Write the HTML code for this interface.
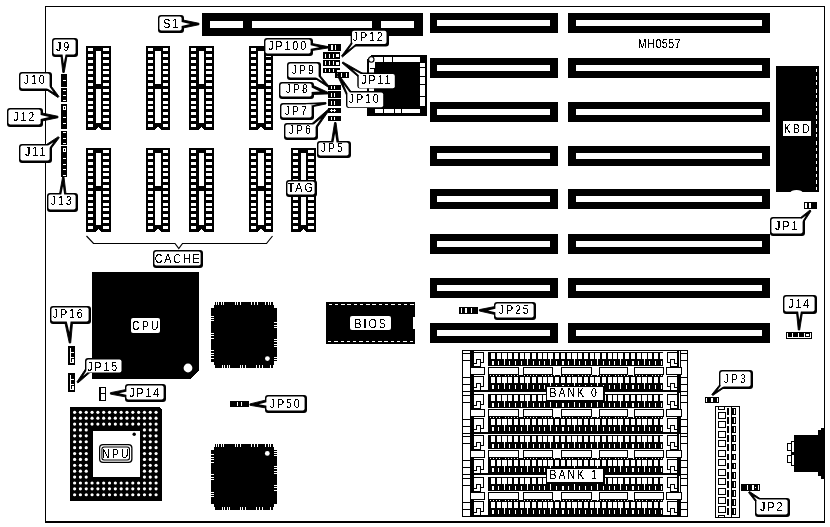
<!DOCTYPE html>
<html><head><meta charset="utf-8"><title>MH0557 motherboard</title>
<style>
html,body{margin:0;padding:0;background:#fff;}
body{width:830px;height:527px;overflow:hidden;font-family:"Liberation Sans",sans-serif;}
svg{display:block;will-change:transform;}
svg text{font-family:"Liberation Sans",sans-serif;fill:#000;}
</style></head><body>
<svg width="830" height="527" viewBox="0 0 830 527" shape-rendering="crispEdges">
<defs><filter id="crisp" x="-5%" y="-20%" width="110%" height="140%" color-interpolation-filters="sRGB"><feComponentTransfer><feFuncA type="discrete" tableValues="0 0 0 0 0 0 0 0 0 1 1 1 1 1 1 1 1 1 1 1"/></feComponentTransfer></filter></defs>
<rect x="0" y="0" width="830" height="527" fill="#fff"/>
<rect x="45" y="6" width="780" height="1" fill="#000"/>
<rect x="45" y="6" width="1" height="517" fill="#000"/>
<rect x="824" y="6" width="1" height="517" fill="#000"/>
<rect x="45" y="521" width="780" height="2" fill="#000"/>
<rect x="202" y="13" width="221" height="23" fill="#000"/>
<rect x="210" y="21" width="33" height="7" fill="#fff"/>
<rect x="252" y="21" width="120" height="7" fill="#fff"/>
<rect x="381" y="21" width="33" height="7" fill="#fff"/>
<rect x="430" y="13" width="128" height="20" fill="#000"/>
<rect x="437" y="20" width="113" height="6" fill="#fff"/>
<rect x="568" y="13" width="202" height="20" fill="#000"/>
<rect x="576" y="20" width="186" height="6" fill="#fff"/>
<rect x="430" y="58" width="128" height="20" fill="#000"/>
<rect x="437" y="65" width="113" height="6" fill="#fff"/>
<rect x="568" y="58" width="202" height="20" fill="#000"/>
<rect x="576" y="65" width="186" height="6" fill="#fff"/>
<rect x="430" y="102" width="128" height="20" fill="#000"/>
<rect x="437" y="109" width="113" height="6" fill="#fff"/>
<rect x="568" y="102" width="202" height="20" fill="#000"/>
<rect x="576" y="109" width="186" height="6" fill="#fff"/>
<rect x="430" y="146" width="128" height="20" fill="#000"/>
<rect x="437" y="153" width="113" height="6" fill="#fff"/>
<rect x="568" y="146" width="202" height="20" fill="#000"/>
<rect x="576" y="153" width="186" height="6" fill="#fff"/>
<rect x="430" y="189" width="128" height="20" fill="#000"/>
<rect x="437" y="196" width="113" height="6" fill="#fff"/>
<rect x="568" y="189" width="202" height="20" fill="#000"/>
<rect x="576" y="196" width="186" height="6" fill="#fff"/>
<rect x="430" y="234" width="128" height="20" fill="#000"/>
<rect x="437" y="241" width="113" height="6" fill="#fff"/>
<rect x="568" y="234" width="202" height="20" fill="#000"/>
<rect x="576" y="241" width="186" height="6" fill="#fff"/>
<rect x="430" y="278" width="128" height="20" fill="#000"/>
<rect x="437" y="285" width="113" height="6" fill="#fff"/>
<rect x="568" y="278" width="202" height="20" fill="#000"/>
<rect x="576" y="285" width="186" height="6" fill="#fff"/>
<rect x="430" y="323" width="128" height="20" fill="#000"/>
<rect x="437" y="330" width="113" height="6" fill="#fff"/>
<rect x="568" y="323" width="202" height="20" fill="#000"/>
<rect x="576" y="330" width="186" height="6" fill="#fff"/>
<rect x="86" y="46" width="25" height="84" fill="#000"/>
<rect x="88" y="48" width="5" height="3" fill="#fff"/>
<rect x="103" y="48" width="6" height="3" fill="#fff"/>
<rect x="88" y="54" width="5" height="3" fill="#fff"/>
<rect x="103" y="54" width="6" height="3" fill="#fff"/>
<rect x="88" y="60" width="5" height="3" fill="#fff"/>
<rect x="103" y="60" width="6" height="3" fill="#fff"/>
<rect x="88" y="66" width="5" height="3" fill="#fff"/>
<rect x="103" y="66" width="6" height="3" fill="#fff"/>
<rect x="88" y="71" width="5" height="3" fill="#fff"/>
<rect x="103" y="71" width="6" height="3" fill="#fff"/>
<rect x="88" y="77" width="5" height="3" fill="#fff"/>
<rect x="103" y="77" width="6" height="3" fill="#fff"/>
<rect x="88" y="83" width="5" height="3" fill="#fff"/>
<rect x="103" y="83" width="6" height="3" fill="#fff"/>
<rect x="88" y="89" width="5" height="3" fill="#fff"/>
<rect x="103" y="89" width="6" height="3" fill="#fff"/>
<rect x="88" y="95" width="5" height="3" fill="#fff"/>
<rect x="103" y="95" width="6" height="3" fill="#fff"/>
<rect x="88" y="101" width="5" height="3" fill="#fff"/>
<rect x="103" y="101" width="6" height="3" fill="#fff"/>
<rect x="88" y="106" width="5" height="3" fill="#fff"/>
<rect x="103" y="106" width="6" height="3" fill="#fff"/>
<rect x="88" y="112" width="5" height="3" fill="#fff"/>
<rect x="103" y="112" width="6" height="3" fill="#fff"/>
<rect x="88" y="118" width="5" height="3" fill="#fff"/>
<rect x="103" y="118" width="6" height="3" fill="#fff"/>
<rect x="88" y="124" width="5" height="3" fill="#fff"/>
<rect x="103" y="124" width="6" height="3" fill="#fff"/>
<rect x="96" y="51" width="5" height="33" fill="#fff"/>
<rect x="96" y="89" width="5" height="34" fill="#fff"/>
<polygon points="96,130 98.5,126.8 101,130" fill="#fff"/>
<rect x="86" y="148" width="25" height="84" fill="#000"/>
<rect x="88" y="150" width="5" height="3" fill="#fff"/>
<rect x="103" y="150" width="6" height="3" fill="#fff"/>
<rect x="88" y="156" width="5" height="3" fill="#fff"/>
<rect x="103" y="156" width="6" height="3" fill="#fff"/>
<rect x="88" y="162" width="5" height="3" fill="#fff"/>
<rect x="103" y="162" width="6" height="3" fill="#fff"/>
<rect x="88" y="168" width="5" height="3" fill="#fff"/>
<rect x="103" y="168" width="6" height="3" fill="#fff"/>
<rect x="88" y="173" width="5" height="3" fill="#fff"/>
<rect x="103" y="173" width="6" height="3" fill="#fff"/>
<rect x="88" y="179" width="5" height="3" fill="#fff"/>
<rect x="103" y="179" width="6" height="3" fill="#fff"/>
<rect x="88" y="185" width="5" height="3" fill="#fff"/>
<rect x="103" y="185" width="6" height="3" fill="#fff"/>
<rect x="88" y="191" width="5" height="3" fill="#fff"/>
<rect x="103" y="191" width="6" height="3" fill="#fff"/>
<rect x="88" y="197" width="5" height="3" fill="#fff"/>
<rect x="103" y="197" width="6" height="3" fill="#fff"/>
<rect x="88" y="203" width="5" height="3" fill="#fff"/>
<rect x="103" y="203" width="6" height="3" fill="#fff"/>
<rect x="88" y="208" width="5" height="3" fill="#fff"/>
<rect x="103" y="208" width="6" height="3" fill="#fff"/>
<rect x="88" y="214" width="5" height="3" fill="#fff"/>
<rect x="103" y="214" width="6" height="3" fill="#fff"/>
<rect x="88" y="220" width="5" height="3" fill="#fff"/>
<rect x="103" y="220" width="6" height="3" fill="#fff"/>
<rect x="88" y="226" width="5" height="3" fill="#fff"/>
<rect x="103" y="226" width="6" height="3" fill="#fff"/>
<rect x="96" y="153" width="5" height="33" fill="#fff"/>
<rect x="96" y="191" width="5" height="34" fill="#fff"/>
<polygon points="96,232 98.5,228.8 101,232" fill="#fff"/>
<rect x="146" y="46" width="24" height="84" fill="#000"/>
<rect x="148" y="48" width="5" height="3" fill="#fff"/>
<rect x="163" y="48" width="5" height="3" fill="#fff"/>
<rect x="148" y="54" width="5" height="3" fill="#fff"/>
<rect x="163" y="54" width="5" height="3" fill="#fff"/>
<rect x="148" y="60" width="5" height="3" fill="#fff"/>
<rect x="163" y="60" width="5" height="3" fill="#fff"/>
<rect x="148" y="66" width="5" height="3" fill="#fff"/>
<rect x="163" y="66" width="5" height="3" fill="#fff"/>
<rect x="148" y="71" width="5" height="3" fill="#fff"/>
<rect x="163" y="71" width="5" height="3" fill="#fff"/>
<rect x="148" y="77" width="5" height="3" fill="#fff"/>
<rect x="163" y="77" width="5" height="3" fill="#fff"/>
<rect x="148" y="83" width="5" height="3" fill="#fff"/>
<rect x="163" y="83" width="5" height="3" fill="#fff"/>
<rect x="148" y="89" width="5" height="3" fill="#fff"/>
<rect x="163" y="89" width="5" height="3" fill="#fff"/>
<rect x="148" y="95" width="5" height="3" fill="#fff"/>
<rect x="163" y="95" width="5" height="3" fill="#fff"/>
<rect x="148" y="101" width="5" height="3" fill="#fff"/>
<rect x="163" y="101" width="5" height="3" fill="#fff"/>
<rect x="148" y="106" width="5" height="3" fill="#fff"/>
<rect x="163" y="106" width="5" height="3" fill="#fff"/>
<rect x="148" y="112" width="5" height="3" fill="#fff"/>
<rect x="163" y="112" width="5" height="3" fill="#fff"/>
<rect x="148" y="118" width="5" height="3" fill="#fff"/>
<rect x="163" y="118" width="5" height="3" fill="#fff"/>
<rect x="148" y="124" width="5" height="3" fill="#fff"/>
<rect x="163" y="124" width="5" height="3" fill="#fff"/>
<rect x="155" y="51" width="6" height="33" fill="#fff"/>
<rect x="155" y="89" width="6" height="34" fill="#fff"/>
<polygon points="155,130 158,126.8 161,130" fill="#fff"/>
<rect x="146" y="148" width="24" height="84" fill="#000"/>
<rect x="148" y="150" width="5" height="3" fill="#fff"/>
<rect x="163" y="150" width="5" height="3" fill="#fff"/>
<rect x="148" y="156" width="5" height="3" fill="#fff"/>
<rect x="163" y="156" width="5" height="3" fill="#fff"/>
<rect x="148" y="162" width="5" height="3" fill="#fff"/>
<rect x="163" y="162" width="5" height="3" fill="#fff"/>
<rect x="148" y="168" width="5" height="3" fill="#fff"/>
<rect x="163" y="168" width="5" height="3" fill="#fff"/>
<rect x="148" y="173" width="5" height="3" fill="#fff"/>
<rect x="163" y="173" width="5" height="3" fill="#fff"/>
<rect x="148" y="179" width="5" height="3" fill="#fff"/>
<rect x="163" y="179" width="5" height="3" fill="#fff"/>
<rect x="148" y="185" width="5" height="3" fill="#fff"/>
<rect x="163" y="185" width="5" height="3" fill="#fff"/>
<rect x="148" y="191" width="5" height="3" fill="#fff"/>
<rect x="163" y="191" width="5" height="3" fill="#fff"/>
<rect x="148" y="197" width="5" height="3" fill="#fff"/>
<rect x="163" y="197" width="5" height="3" fill="#fff"/>
<rect x="148" y="203" width="5" height="3" fill="#fff"/>
<rect x="163" y="203" width="5" height="3" fill="#fff"/>
<rect x="148" y="208" width="5" height="3" fill="#fff"/>
<rect x="163" y="208" width="5" height="3" fill="#fff"/>
<rect x="148" y="214" width="5" height="3" fill="#fff"/>
<rect x="163" y="214" width="5" height="3" fill="#fff"/>
<rect x="148" y="220" width="5" height="3" fill="#fff"/>
<rect x="163" y="220" width="5" height="3" fill="#fff"/>
<rect x="148" y="226" width="5" height="3" fill="#fff"/>
<rect x="163" y="226" width="5" height="3" fill="#fff"/>
<rect x="155" y="153" width="6" height="33" fill="#fff"/>
<rect x="155" y="191" width="6" height="34" fill="#fff"/>
<polygon points="155,232 158,228.8 161,232" fill="#fff"/>
<rect x="189" y="46" width="25" height="84" fill="#000"/>
<rect x="191" y="48" width="5" height="3" fill="#fff"/>
<rect x="206" y="48" width="6" height="3" fill="#fff"/>
<rect x="191" y="54" width="5" height="3" fill="#fff"/>
<rect x="206" y="54" width="6" height="3" fill="#fff"/>
<rect x="191" y="60" width="5" height="3" fill="#fff"/>
<rect x="206" y="60" width="6" height="3" fill="#fff"/>
<rect x="191" y="66" width="5" height="3" fill="#fff"/>
<rect x="206" y="66" width="6" height="3" fill="#fff"/>
<rect x="191" y="71" width="5" height="3" fill="#fff"/>
<rect x="206" y="71" width="6" height="3" fill="#fff"/>
<rect x="191" y="77" width="5" height="3" fill="#fff"/>
<rect x="206" y="77" width="6" height="3" fill="#fff"/>
<rect x="191" y="83" width="5" height="3" fill="#fff"/>
<rect x="206" y="83" width="6" height="3" fill="#fff"/>
<rect x="191" y="89" width="5" height="3" fill="#fff"/>
<rect x="206" y="89" width="6" height="3" fill="#fff"/>
<rect x="191" y="95" width="5" height="3" fill="#fff"/>
<rect x="206" y="95" width="6" height="3" fill="#fff"/>
<rect x="191" y="101" width="5" height="3" fill="#fff"/>
<rect x="206" y="101" width="6" height="3" fill="#fff"/>
<rect x="191" y="106" width="5" height="3" fill="#fff"/>
<rect x="206" y="106" width="6" height="3" fill="#fff"/>
<rect x="191" y="112" width="5" height="3" fill="#fff"/>
<rect x="206" y="112" width="6" height="3" fill="#fff"/>
<rect x="191" y="118" width="5" height="3" fill="#fff"/>
<rect x="206" y="118" width="6" height="3" fill="#fff"/>
<rect x="191" y="124" width="5" height="3" fill="#fff"/>
<rect x="206" y="124" width="6" height="3" fill="#fff"/>
<rect x="199" y="51" width="5" height="33" fill="#fff"/>
<rect x="199" y="89" width="5" height="34" fill="#fff"/>
<polygon points="199,130 201.5,126.8 204,130" fill="#fff"/>
<rect x="189" y="148" width="25" height="84" fill="#000"/>
<rect x="191" y="150" width="5" height="3" fill="#fff"/>
<rect x="206" y="150" width="6" height="3" fill="#fff"/>
<rect x="191" y="156" width="5" height="3" fill="#fff"/>
<rect x="206" y="156" width="6" height="3" fill="#fff"/>
<rect x="191" y="162" width="5" height="3" fill="#fff"/>
<rect x="206" y="162" width="6" height="3" fill="#fff"/>
<rect x="191" y="168" width="5" height="3" fill="#fff"/>
<rect x="206" y="168" width="6" height="3" fill="#fff"/>
<rect x="191" y="173" width="5" height="3" fill="#fff"/>
<rect x="206" y="173" width="6" height="3" fill="#fff"/>
<rect x="191" y="179" width="5" height="3" fill="#fff"/>
<rect x="206" y="179" width="6" height="3" fill="#fff"/>
<rect x="191" y="185" width="5" height="3" fill="#fff"/>
<rect x="206" y="185" width="6" height="3" fill="#fff"/>
<rect x="191" y="191" width="5" height="3" fill="#fff"/>
<rect x="206" y="191" width="6" height="3" fill="#fff"/>
<rect x="191" y="197" width="5" height="3" fill="#fff"/>
<rect x="206" y="197" width="6" height="3" fill="#fff"/>
<rect x="191" y="203" width="5" height="3" fill="#fff"/>
<rect x="206" y="203" width="6" height="3" fill="#fff"/>
<rect x="191" y="208" width="5" height="3" fill="#fff"/>
<rect x="206" y="208" width="6" height="3" fill="#fff"/>
<rect x="191" y="214" width="5" height="3" fill="#fff"/>
<rect x="206" y="214" width="6" height="3" fill="#fff"/>
<rect x="191" y="220" width="5" height="3" fill="#fff"/>
<rect x="206" y="220" width="6" height="3" fill="#fff"/>
<rect x="191" y="226" width="5" height="3" fill="#fff"/>
<rect x="206" y="226" width="6" height="3" fill="#fff"/>
<rect x="199" y="153" width="5" height="33" fill="#fff"/>
<rect x="199" y="191" width="5" height="34" fill="#fff"/>
<polygon points="199,232 201.5,228.8 204,232" fill="#fff"/>
<rect x="249" y="46" width="24" height="84" fill="#000"/>
<rect x="251" y="48" width="5" height="3" fill="#fff"/>
<rect x="266" y="48" width="5" height="3" fill="#fff"/>
<rect x="251" y="54" width="5" height="3" fill="#fff"/>
<rect x="266" y="54" width="5" height="3" fill="#fff"/>
<rect x="251" y="60" width="5" height="3" fill="#fff"/>
<rect x="266" y="60" width="5" height="3" fill="#fff"/>
<rect x="251" y="66" width="5" height="3" fill="#fff"/>
<rect x="266" y="66" width="5" height="3" fill="#fff"/>
<rect x="251" y="71" width="5" height="3" fill="#fff"/>
<rect x="266" y="71" width="5" height="3" fill="#fff"/>
<rect x="251" y="77" width="5" height="3" fill="#fff"/>
<rect x="266" y="77" width="5" height="3" fill="#fff"/>
<rect x="251" y="83" width="5" height="3" fill="#fff"/>
<rect x="266" y="83" width="5" height="3" fill="#fff"/>
<rect x="251" y="89" width="5" height="3" fill="#fff"/>
<rect x="266" y="89" width="5" height="3" fill="#fff"/>
<rect x="251" y="95" width="5" height="3" fill="#fff"/>
<rect x="266" y="95" width="5" height="3" fill="#fff"/>
<rect x="251" y="101" width="5" height="3" fill="#fff"/>
<rect x="266" y="101" width="5" height="3" fill="#fff"/>
<rect x="251" y="106" width="5" height="3" fill="#fff"/>
<rect x="266" y="106" width="5" height="3" fill="#fff"/>
<rect x="251" y="112" width="5" height="3" fill="#fff"/>
<rect x="266" y="112" width="5" height="3" fill="#fff"/>
<rect x="251" y="118" width="5" height="3" fill="#fff"/>
<rect x="266" y="118" width="5" height="3" fill="#fff"/>
<rect x="251" y="124" width="5" height="3" fill="#fff"/>
<rect x="266" y="124" width="5" height="3" fill="#fff"/>
<rect x="258" y="51" width="6" height="33" fill="#fff"/>
<rect x="258" y="89" width="6" height="34" fill="#fff"/>
<polygon points="258,130 261,126.8 264,130" fill="#fff"/>
<rect x="249" y="148" width="24" height="84" fill="#000"/>
<rect x="251" y="150" width="5" height="3" fill="#fff"/>
<rect x="266" y="150" width="5" height="3" fill="#fff"/>
<rect x="251" y="156" width="5" height="3" fill="#fff"/>
<rect x="266" y="156" width="5" height="3" fill="#fff"/>
<rect x="251" y="162" width="5" height="3" fill="#fff"/>
<rect x="266" y="162" width="5" height="3" fill="#fff"/>
<rect x="251" y="168" width="5" height="3" fill="#fff"/>
<rect x="266" y="168" width="5" height="3" fill="#fff"/>
<rect x="251" y="173" width="5" height="3" fill="#fff"/>
<rect x="266" y="173" width="5" height="3" fill="#fff"/>
<rect x="251" y="179" width="5" height="3" fill="#fff"/>
<rect x="266" y="179" width="5" height="3" fill="#fff"/>
<rect x="251" y="185" width="5" height="3" fill="#fff"/>
<rect x="266" y="185" width="5" height="3" fill="#fff"/>
<rect x="251" y="191" width="5" height="3" fill="#fff"/>
<rect x="266" y="191" width="5" height="3" fill="#fff"/>
<rect x="251" y="197" width="5" height="3" fill="#fff"/>
<rect x="266" y="197" width="5" height="3" fill="#fff"/>
<rect x="251" y="203" width="5" height="3" fill="#fff"/>
<rect x="266" y="203" width="5" height="3" fill="#fff"/>
<rect x="251" y="208" width="5" height="3" fill="#fff"/>
<rect x="266" y="208" width="5" height="3" fill="#fff"/>
<rect x="251" y="214" width="5" height="3" fill="#fff"/>
<rect x="266" y="214" width="5" height="3" fill="#fff"/>
<rect x="251" y="220" width="5" height="3" fill="#fff"/>
<rect x="266" y="220" width="5" height="3" fill="#fff"/>
<rect x="251" y="226" width="5" height="3" fill="#fff"/>
<rect x="266" y="226" width="5" height="3" fill="#fff"/>
<rect x="258" y="153" width="6" height="33" fill="#fff"/>
<rect x="258" y="191" width="6" height="34" fill="#fff"/>
<polygon points="258,232 261,228.8 264,232" fill="#fff"/>
<rect x="291" y="148" width="25" height="84" fill="#000"/>
<rect x="293" y="150" width="5" height="3" fill="#fff"/>
<rect x="308" y="150" width="6" height="3" fill="#fff"/>
<rect x="293" y="156" width="5" height="3" fill="#fff"/>
<rect x="308" y="156" width="6" height="3" fill="#fff"/>
<rect x="293" y="162" width="5" height="3" fill="#fff"/>
<rect x="308" y="162" width="6" height="3" fill="#fff"/>
<rect x="293" y="168" width="5" height="3" fill="#fff"/>
<rect x="308" y="168" width="6" height="3" fill="#fff"/>
<rect x="293" y="173" width="5" height="3" fill="#fff"/>
<rect x="308" y="173" width="6" height="3" fill="#fff"/>
<rect x="293" y="179" width="5" height="3" fill="#fff"/>
<rect x="308" y="179" width="6" height="3" fill="#fff"/>
<rect x="293" y="185" width="5" height="3" fill="#fff"/>
<rect x="308" y="185" width="6" height="3" fill="#fff"/>
<rect x="293" y="191" width="5" height="3" fill="#fff"/>
<rect x="308" y="191" width="6" height="3" fill="#fff"/>
<rect x="293" y="197" width="5" height="3" fill="#fff"/>
<rect x="308" y="197" width="6" height="3" fill="#fff"/>
<rect x="293" y="203" width="5" height="3" fill="#fff"/>
<rect x="308" y="203" width="6" height="3" fill="#fff"/>
<rect x="293" y="208" width="5" height="3" fill="#fff"/>
<rect x="308" y="208" width="6" height="3" fill="#fff"/>
<rect x="293" y="214" width="5" height="3" fill="#fff"/>
<rect x="308" y="214" width="6" height="3" fill="#fff"/>
<rect x="293" y="220" width="5" height="3" fill="#fff"/>
<rect x="308" y="220" width="6" height="3" fill="#fff"/>
<rect x="293" y="226" width="5" height="3" fill="#fff"/>
<rect x="308" y="226" width="6" height="3" fill="#fff"/>
<rect x="301" y="153" width="5" height="33" fill="#fff"/>
<rect x="301" y="191" width="5" height="34" fill="#fff"/>
<polygon points="301,232 303.5,228.8 306,232" fill="#fff"/>
<rect x="61" y="73.8" width="6" height="12.9" fill="#000"/>
<rect x="61" y="88.2" width="6" height="13.8" fill="#000"/>
<rect x="61" y="103.9" width="6" height="25.2" fill="#000"/>
<rect x="61" y="131" width="6" height="13.5" fill="#000"/>
<rect x="61" y="146.3" width="6" height="30.7" fill="#000"/>
<rect x="62.5" y="79.5" width="3.5" height="1.1" fill="#fff"/>
<rect x="62.5" y="89.5" width="3.5" height="1.1" fill="#fff"/>
<rect x="62.5" y="95" width="3.5" height="1.1" fill="#fff"/>
<rect x="62.5" y="100.2" width="3.5" height="1.1" fill="#fff"/>
<rect x="62.5" y="117" width="3.5" height="1.1" fill="#fff"/>
<rect x="62.5" y="122.5" width="3.5" height="1.1" fill="#fff"/>
<rect x="62.5" y="132.3" width="3.5" height="1.1" fill="#fff"/>
<rect x="62.5" y="137.8" width="3.5" height="1.1" fill="#fff"/>
<rect x="62.5" y="143.2" width="3.5" height="1.1" fill="#fff"/>
<rect x="62.5" y="157.7" width="3.5" height="1.1" fill="#fff"/>
<rect x="62.5" y="163.5" width="3.5" height="1.1" fill="#fff"/>
<rect x="62.5" y="169.3" width="3.5" height="1.1" fill="#fff"/>
<rect x="62.5" y="175" width="3.5" height="1.1" fill="#fff"/>
<rect x="62.5" y="106" width="3.5" height="4.2" fill="#fff"/>
<rect x="63.5" y="107" width="1.5" height="2.2" fill="#000"/>
<rect x="62.5" y="147.5" width="3.5" height="4.2" fill="#fff"/>
<rect x="63.5" y="148.5" width="1.5" height="2.2" fill="#000"/>
<polygon points="367,59 371,55 427,55 427,116 367,116" fill="#000"/>
<rect x="370" y="56.5" width="50" height="5.7" fill="#fff"/>
<rect x="382.5" y="56.5" width="1.4" height="5.7" fill="#000"/>
<rect x="391.7" y="56.5" width="1.4" height="5.7" fill="#000"/>
<rect x="420" y="62.5" width="5" height="43.5" fill="#fff"/>
<rect x="420" y="66.5" width="5" height="1.2" fill="#000"/>
<rect x="420" y="75.5" width="5" height="1.2" fill="#000"/>
<rect x="420" y="84" width="5" height="1.2" fill="#000"/>
<rect x="420" y="95.5" width="5" height="1.2" fill="#000"/>
<rect x="369" y="60" width="5.5" height="48" fill="#fff"/>
<rect x="374.5" y="108.5" width="45" height="4.5" fill="#fff"/>
<rect x="382.5" y="108.5" width="1.4" height="4.5" fill="#000"/>
<rect x="393.5" y="108.5" width="1.4" height="4.5" fill="#000"/>
<rect x="401" y="108.5" width="1.4" height="4.5" fill="#000"/>
<polygon points="374.3,68 380,62.2 419.5,62.2 419.5,107.5 374.3,107.5" fill="#000"/>
<rect x="367" y="108" width="8" height="8" fill="#000"/>
<polygon points="367,59 371,55 372.2,55 368.2,59.5 368.2,70 367,70" fill="#000"/>
<circle cx="371.3" cy="59.5" r="2.7" fill="#fff" stroke="#000" stroke-width="1.1" shape-rendering="geometricPrecision"/>
<rect x="369.5" y="68.2" width="4" height="1" fill="#000"/>
<polygon points="92,272 199,272 199,370.5 190.3,379 92,379" fill="#000"/>
<circle cx="188" cy="368" r="4.4" fill="#fff" shape-rendering="geometricPrecision"/>
<rect x="215" y="302" width="58" height="66" fill="#000"/>
<rect x="211" y="308" width="66" height="54" fill="#000"/>
<rect x="214" y="305" width="60" height="60" fill="#000"/>
<rect x="216" y="302" width="1" height="3" fill="#fff"/>
<rect x="218" y="302" width="1" height="3" fill="#fff"/>
<rect x="221" y="302" width="1" height="3" fill="#fff"/>
<rect x="223" y="302" width="1" height="3" fill="#fff"/>
<rect x="235" y="302" width="1" height="3" fill="#fff"/>
<rect x="237" y="302" width="1" height="3" fill="#fff"/>
<rect x="240" y="302" width="1" height="3" fill="#fff"/>
<rect x="251" y="302" width="1" height="3" fill="#fff"/>
<rect x="254" y="302" width="1" height="3" fill="#fff"/>
<rect x="257" y="302" width="1" height="3" fill="#fff"/>
<rect x="265" y="302" width="1" height="3" fill="#fff"/>
<rect x="268" y="302" width="1" height="3" fill="#fff"/>
<rect x="270" y="302" width="1" height="3" fill="#fff"/>
<rect x="222" y="365" width="1" height="3" fill="#fff"/>
<rect x="224" y="365" width="1" height="3" fill="#fff"/>
<rect x="227" y="365" width="1" height="3" fill="#fff"/>
<rect x="229" y="365" width="1" height="3" fill="#fff"/>
<rect x="240" y="365" width="1" height="3" fill="#fff"/>
<rect x="242" y="365" width="1" height="3" fill="#fff"/>
<rect x="245" y="365" width="1" height="3" fill="#fff"/>
<rect x="256" y="365" width="1" height="3" fill="#fff"/>
<rect x="259" y="365" width="1" height="3" fill="#fff"/>
<rect x="262" y="365" width="1" height="3" fill="#fff"/>
<rect x="270" y="365" width="1" height="3" fill="#fff"/>
<rect x="273" y="365" width="1" height="3" fill="#fff"/>
<rect x="211" y="316" width="3" height="1" fill="#fff"/>
<rect x="211" y="318" width="3" height="1" fill="#fff"/>
<rect x="211" y="320" width="3" height="1" fill="#fff"/>
<rect x="211" y="333" width="3" height="1" fill="#fff"/>
<rect x="211" y="335" width="3" height="1" fill="#fff"/>
<rect x="211" y="338" width="3" height="1" fill="#fff"/>
<rect x="211" y="350" width="3" height="1" fill="#fff"/>
<rect x="211" y="353" width="3" height="1" fill="#fff"/>
<rect x="211" y="355" width="3" height="1" fill="#fff"/>
<rect x="211" y="358" width="3" height="1" fill="#fff"/>
<rect x="274" y="306" width="3" height="1" fill="#fff"/>
<rect x="274" y="322" width="3" height="1" fill="#fff"/>
<rect x="274" y="325" width="3" height="1" fill="#fff"/>
<rect x="274" y="327" width="3" height="1" fill="#fff"/>
<rect x="274" y="339" width="3" height="1" fill="#fff"/>
<rect x="274" y="341" width="3" height="1" fill="#fff"/>
<rect x="274" y="344" width="3" height="1" fill="#fff"/>
<rect x="274" y="346" width="3" height="1" fill="#fff"/>
<rect x="274" y="357" width="3" height="1" fill="#fff"/>
<rect x="274" y="359" width="3" height="1" fill="#fff"/>
<rect x="274" y="361" width="3" height="1" fill="#fff"/>
<circle cx="267.4" cy="358.6" r="2.4" fill="#fff" shape-rendering="geometricPrecision"/>
<rect x="215" y="444" width="58" height="66" fill="#000"/>
<rect x="211" y="450" width="66" height="54" fill="#000"/>
<rect x="214" y="447" width="60" height="60" fill="#000"/>
<rect x="216" y="444" width="1" height="3" fill="#fff"/>
<rect x="218" y="444" width="1" height="3" fill="#fff"/>
<rect x="221" y="444" width="1" height="3" fill="#fff"/>
<rect x="223" y="444" width="1" height="3" fill="#fff"/>
<rect x="235" y="444" width="1" height="3" fill="#fff"/>
<rect x="237" y="444" width="1" height="3" fill="#fff"/>
<rect x="240" y="444" width="1" height="3" fill="#fff"/>
<rect x="251" y="444" width="1" height="3" fill="#fff"/>
<rect x="254" y="444" width="1" height="3" fill="#fff"/>
<rect x="257" y="444" width="1" height="3" fill="#fff"/>
<rect x="265" y="444" width="1" height="3" fill="#fff"/>
<rect x="268" y="444" width="1" height="3" fill="#fff"/>
<rect x="270" y="444" width="1" height="3" fill="#fff"/>
<rect x="222" y="507" width="1" height="3" fill="#fff"/>
<rect x="224" y="507" width="1" height="3" fill="#fff"/>
<rect x="227" y="507" width="1" height="3" fill="#fff"/>
<rect x="229" y="507" width="1" height="3" fill="#fff"/>
<rect x="240" y="507" width="1" height="3" fill="#fff"/>
<rect x="242" y="507" width="1" height="3" fill="#fff"/>
<rect x="245" y="507" width="1" height="3" fill="#fff"/>
<rect x="256" y="507" width="1" height="3" fill="#fff"/>
<rect x="259" y="507" width="1" height="3" fill="#fff"/>
<rect x="262" y="507" width="1" height="3" fill="#fff"/>
<rect x="270" y="507" width="1" height="3" fill="#fff"/>
<rect x="273" y="507" width="1" height="3" fill="#fff"/>
<rect x="211" y="496" width="3" height="1" fill="#fff"/>
<rect x="211" y="494" width="3" height="1" fill="#fff"/>
<rect x="211" y="492" width="3" height="1" fill="#fff"/>
<rect x="211" y="479" width="3" height="1" fill="#fff"/>
<rect x="211" y="477" width="3" height="1" fill="#fff"/>
<rect x="211" y="474" width="3" height="1" fill="#fff"/>
<rect x="211" y="462" width="3" height="1" fill="#fff"/>
<rect x="211" y="459" width="3" height="1" fill="#fff"/>
<rect x="211" y="457" width="3" height="1" fill="#fff"/>
<rect x="211" y="454" width="3" height="1" fill="#fff"/>
<rect x="274" y="506" width="3" height="1" fill="#fff"/>
<rect x="274" y="490" width="3" height="1" fill="#fff"/>
<rect x="274" y="487" width="3" height="1" fill="#fff"/>
<rect x="274" y="485" width="3" height="1" fill="#fff"/>
<rect x="274" y="473" width="3" height="1" fill="#fff"/>
<rect x="274" y="471" width="3" height="1" fill="#fff"/>
<rect x="274" y="468" width="3" height="1" fill="#fff"/>
<rect x="274" y="466" width="3" height="1" fill="#fff"/>
<rect x="274" y="455" width="3" height="1" fill="#fff"/>
<rect x="274" y="453" width="3" height="1" fill="#fff"/>
<rect x="274" y="451" width="3" height="1" fill="#fff"/>
<circle cx="267.3" cy="453.4" r="2.4" fill="#fff" shape-rendering="geometricPrecision"/>
<rect x="326" y="302" width="89" height="42" fill="#000"/>
<rect x="328.6" y="304" width="3.4" height="1" fill="#fff"/>
<rect x="328" y="341" width="3.4" height="1" fill="#fff"/>
<rect x="334.87" y="304" width="3.4" height="1" fill="#fff"/>
<rect x="334.27" y="341" width="3.4" height="1" fill="#fff"/>
<rect x="341.14" y="304" width="3.4" height="1" fill="#fff"/>
<rect x="340.54" y="341" width="3.4" height="1" fill="#fff"/>
<rect x="347.41" y="304" width="3.4" height="1" fill="#fff"/>
<rect x="346.81" y="341" width="3.4" height="1" fill="#fff"/>
<rect x="353.68" y="304" width="3.4" height="1" fill="#fff"/>
<rect x="353.08" y="341" width="3.4" height="1" fill="#fff"/>
<rect x="359.95" y="304" width="3.4" height="1" fill="#fff"/>
<rect x="359.35" y="341" width="3.4" height="1" fill="#fff"/>
<rect x="366.22" y="304" width="3.4" height="1" fill="#fff"/>
<rect x="365.62" y="341" width="3.4" height="1" fill="#fff"/>
<rect x="372.49" y="304" width="3.4" height="1" fill="#fff"/>
<rect x="371.89" y="341" width="3.4" height="1" fill="#fff"/>
<rect x="378.76" y="304" width="3.4" height="1" fill="#fff"/>
<rect x="378.16" y="341" width="3.4" height="1" fill="#fff"/>
<rect x="385.03" y="304" width="3.4" height="1" fill="#fff"/>
<rect x="384.43" y="341" width="3.4" height="1" fill="#fff"/>
<rect x="391.3" y="304" width="3.4" height="1" fill="#fff"/>
<rect x="390.7" y="341" width="3.4" height="1" fill="#fff"/>
<rect x="397.57" y="304" width="3.4" height="1" fill="#fff"/>
<rect x="396.97" y="341" width="3.4" height="1" fill="#fff"/>
<rect x="403.84" y="304" width="3.4" height="1" fill="#fff"/>
<rect x="403.24" y="341" width="3.4" height="1" fill="#fff"/>
<rect x="410.11" y="304" width="3.4" height="1" fill="#fff"/>
<rect x="409.51" y="341" width="3.4" height="1" fill="#fff"/>
<rect x="413" y="317" width="2" height="12" fill="#fff"/>
<polygon points="70,407 159,407 161.5,409.5 161.5,501 70,501" fill="#000"/>
<rect x="93" y="430.5" width="46.5" height="46.5" fill="#fff"/>
<circle cx="74.6" cy="412.3" r="1.6" fill="#fff" shape-rendering="geometricPrecision"/>
<circle cx="80.42" cy="412.3" r="1.6" fill="#fff" shape-rendering="geometricPrecision"/>
<circle cx="86.24" cy="412.3" r="1.6" fill="#fff" shape-rendering="geometricPrecision"/>
<circle cx="92.06" cy="412.3" r="1.6" fill="#fff" shape-rendering="geometricPrecision"/>
<circle cx="97.88" cy="412.3" r="1.6" fill="#fff" shape-rendering="geometricPrecision"/>
<circle cx="103.7" cy="412.3" r="1.6" fill="#fff" shape-rendering="geometricPrecision"/>
<circle cx="109.52" cy="412.3" r="1.6" fill="#fff" shape-rendering="geometricPrecision"/>
<circle cx="115.34" cy="412.3" r="1.6" fill="#fff" shape-rendering="geometricPrecision"/>
<circle cx="121.16" cy="412.3" r="1.6" fill="#fff" shape-rendering="geometricPrecision"/>
<circle cx="126.98" cy="412.3" r="1.6" fill="#fff" shape-rendering="geometricPrecision"/>
<circle cx="132.8" cy="412.3" r="1.6" fill="#fff" shape-rendering="geometricPrecision"/>
<circle cx="138.62" cy="412.3" r="1.6" fill="#fff" shape-rendering="geometricPrecision"/>
<circle cx="144.44" cy="412.3" r="1.6" fill="#fff" shape-rendering="geometricPrecision"/>
<circle cx="150.26" cy="412.3" r="1.6" fill="#fff" shape-rendering="geometricPrecision"/>
<circle cx="156.08" cy="412.3" r="1.6" fill="#fff" shape-rendering="geometricPrecision"/>
<circle cx="74.6" cy="418.19" r="1.6" fill="#fff" shape-rendering="geometricPrecision"/>
<circle cx="80.42" cy="418.19" r="1.6" fill="#fff" shape-rendering="geometricPrecision"/>
<circle cx="86.24" cy="418.19" r="1.6" fill="#fff" shape-rendering="geometricPrecision"/>
<circle cx="92.06" cy="418.19" r="1.6" fill="#fff" shape-rendering="geometricPrecision"/>
<circle cx="97.88" cy="418.19" r="1.6" fill="#fff" shape-rendering="geometricPrecision"/>
<circle cx="103.7" cy="418.19" r="1.6" fill="#fff" shape-rendering="geometricPrecision"/>
<circle cx="109.52" cy="418.19" r="1.6" fill="#fff" shape-rendering="geometricPrecision"/>
<circle cx="115.34" cy="418.19" r="1.6" fill="#fff" shape-rendering="geometricPrecision"/>
<circle cx="121.16" cy="418.19" r="1.6" fill="#fff" shape-rendering="geometricPrecision"/>
<circle cx="126.98" cy="418.19" r="1.6" fill="#fff" shape-rendering="geometricPrecision"/>
<circle cx="132.8" cy="418.19" r="1.6" fill="#fff" shape-rendering="geometricPrecision"/>
<circle cx="138.62" cy="418.19" r="1.6" fill="#fff" shape-rendering="geometricPrecision"/>
<circle cx="144.44" cy="418.19" r="1.6" fill="#fff" shape-rendering="geometricPrecision"/>
<circle cx="150.26" cy="418.19" r="1.6" fill="#fff" shape-rendering="geometricPrecision"/>
<circle cx="156.08" cy="418.19" r="1.6" fill="#fff" shape-rendering="geometricPrecision"/>
<circle cx="74.6" cy="424.08" r="1.6" fill="#fff" shape-rendering="geometricPrecision"/>
<circle cx="80.42" cy="424.08" r="1.6" fill="#fff" shape-rendering="geometricPrecision"/>
<circle cx="86.24" cy="424.08" r="1.6" fill="#fff" shape-rendering="geometricPrecision"/>
<circle cx="92.06" cy="424.08" r="1.6" fill="#fff" shape-rendering="geometricPrecision"/>
<circle cx="97.88" cy="424.08" r="1.6" fill="#fff" shape-rendering="geometricPrecision"/>
<circle cx="103.7" cy="424.08" r="1.6" fill="#fff" shape-rendering="geometricPrecision"/>
<circle cx="109.52" cy="424.08" r="1.6" fill="#fff" shape-rendering="geometricPrecision"/>
<circle cx="115.34" cy="424.08" r="1.6" fill="#fff" shape-rendering="geometricPrecision"/>
<circle cx="121.16" cy="424.08" r="1.6" fill="#fff" shape-rendering="geometricPrecision"/>
<circle cx="126.98" cy="424.08" r="1.6" fill="#fff" shape-rendering="geometricPrecision"/>
<circle cx="132.8" cy="424.08" r="1.6" fill="#fff" shape-rendering="geometricPrecision"/>
<circle cx="138.62" cy="424.08" r="1.6" fill="#fff" shape-rendering="geometricPrecision"/>
<circle cx="144.44" cy="424.08" r="1.6" fill="#fff" shape-rendering="geometricPrecision"/>
<circle cx="150.26" cy="424.08" r="1.6" fill="#fff" shape-rendering="geometricPrecision"/>
<circle cx="156.08" cy="424.08" r="1.6" fill="#fff" shape-rendering="geometricPrecision"/>
<circle cx="74.6" cy="429.97" r="1.6" fill="#fff" shape-rendering="geometricPrecision"/>
<circle cx="80.42" cy="429.97" r="1.6" fill="#fff" shape-rendering="geometricPrecision"/>
<circle cx="86.24" cy="429.97" r="1.6" fill="#fff" shape-rendering="geometricPrecision"/>
<circle cx="144.44" cy="429.97" r="1.6" fill="#fff" shape-rendering="geometricPrecision"/>
<circle cx="150.26" cy="429.97" r="1.6" fill="#fff" shape-rendering="geometricPrecision"/>
<circle cx="156.08" cy="429.97" r="1.6" fill="#fff" shape-rendering="geometricPrecision"/>
<circle cx="74.6" cy="435.86" r="1.6" fill="#fff" shape-rendering="geometricPrecision"/>
<circle cx="80.42" cy="435.86" r="1.6" fill="#fff" shape-rendering="geometricPrecision"/>
<circle cx="86.24" cy="435.86" r="1.6" fill="#fff" shape-rendering="geometricPrecision"/>
<circle cx="144.44" cy="435.86" r="1.6" fill="#fff" shape-rendering="geometricPrecision"/>
<circle cx="150.26" cy="435.86" r="1.6" fill="#fff" shape-rendering="geometricPrecision"/>
<circle cx="156.08" cy="435.86" r="1.6" fill="#fff" shape-rendering="geometricPrecision"/>
<circle cx="74.6" cy="441.75" r="1.6" fill="#fff" shape-rendering="geometricPrecision"/>
<circle cx="80.42" cy="441.75" r="1.6" fill="#fff" shape-rendering="geometricPrecision"/>
<circle cx="86.24" cy="441.75" r="1.6" fill="#fff" shape-rendering="geometricPrecision"/>
<circle cx="144.44" cy="441.75" r="1.6" fill="#fff" shape-rendering="geometricPrecision"/>
<circle cx="150.26" cy="441.75" r="1.6" fill="#fff" shape-rendering="geometricPrecision"/>
<circle cx="156.08" cy="441.75" r="1.6" fill="#fff" shape-rendering="geometricPrecision"/>
<circle cx="74.6" cy="447.64" r="1.6" fill="#fff" shape-rendering="geometricPrecision"/>
<circle cx="80.42" cy="447.64" r="1.6" fill="#fff" shape-rendering="geometricPrecision"/>
<circle cx="86.24" cy="447.64" r="1.6" fill="#fff" shape-rendering="geometricPrecision"/>
<circle cx="144.44" cy="447.64" r="1.6" fill="#fff" shape-rendering="geometricPrecision"/>
<circle cx="150.26" cy="447.64" r="1.6" fill="#fff" shape-rendering="geometricPrecision"/>
<circle cx="156.08" cy="447.64" r="1.6" fill="#fff" shape-rendering="geometricPrecision"/>
<circle cx="74.6" cy="453.53" r="1.6" fill="#fff" shape-rendering="geometricPrecision"/>
<circle cx="80.42" cy="453.53" r="1.6" fill="#fff" shape-rendering="geometricPrecision"/>
<circle cx="86.24" cy="453.53" r="1.6" fill="#fff" shape-rendering="geometricPrecision"/>
<circle cx="144.44" cy="453.53" r="1.6" fill="#fff" shape-rendering="geometricPrecision"/>
<circle cx="150.26" cy="453.53" r="1.6" fill="#fff" shape-rendering="geometricPrecision"/>
<circle cx="156.08" cy="453.53" r="1.6" fill="#fff" shape-rendering="geometricPrecision"/>
<circle cx="74.6" cy="459.42" r="1.6" fill="#fff" shape-rendering="geometricPrecision"/>
<circle cx="80.42" cy="459.42" r="1.6" fill="#fff" shape-rendering="geometricPrecision"/>
<circle cx="86.24" cy="459.42" r="1.6" fill="#fff" shape-rendering="geometricPrecision"/>
<circle cx="144.44" cy="459.42" r="1.6" fill="#fff" shape-rendering="geometricPrecision"/>
<circle cx="150.26" cy="459.42" r="1.6" fill="#fff" shape-rendering="geometricPrecision"/>
<circle cx="156.08" cy="459.42" r="1.6" fill="#fff" shape-rendering="geometricPrecision"/>
<circle cx="74.6" cy="465.31" r="1.6" fill="#fff" shape-rendering="geometricPrecision"/>
<circle cx="80.42" cy="465.31" r="1.6" fill="#fff" shape-rendering="geometricPrecision"/>
<circle cx="86.24" cy="465.31" r="1.6" fill="#fff" shape-rendering="geometricPrecision"/>
<circle cx="144.44" cy="465.31" r="1.6" fill="#fff" shape-rendering="geometricPrecision"/>
<circle cx="150.26" cy="465.31" r="1.6" fill="#fff" shape-rendering="geometricPrecision"/>
<circle cx="156.08" cy="465.31" r="1.6" fill="#fff" shape-rendering="geometricPrecision"/>
<circle cx="74.6" cy="471.2" r="1.6" fill="#fff" shape-rendering="geometricPrecision"/>
<circle cx="80.42" cy="471.2" r="1.6" fill="#fff" shape-rendering="geometricPrecision"/>
<circle cx="86.24" cy="471.2" r="1.6" fill="#fff" shape-rendering="geometricPrecision"/>
<circle cx="144.44" cy="471.2" r="1.6" fill="#fff" shape-rendering="geometricPrecision"/>
<circle cx="150.26" cy="471.2" r="1.6" fill="#fff" shape-rendering="geometricPrecision"/>
<circle cx="156.08" cy="471.2" r="1.6" fill="#fff" shape-rendering="geometricPrecision"/>
<circle cx="74.6" cy="477.09" r="1.6" fill="#fff" shape-rendering="geometricPrecision"/>
<circle cx="80.42" cy="477.09" r="1.6" fill="#fff" shape-rendering="geometricPrecision"/>
<circle cx="86.24" cy="477.09" r="1.6" fill="#fff" shape-rendering="geometricPrecision"/>
<circle cx="144.44" cy="477.09" r="1.6" fill="#fff" shape-rendering="geometricPrecision"/>
<circle cx="150.26" cy="477.09" r="1.6" fill="#fff" shape-rendering="geometricPrecision"/>
<circle cx="156.08" cy="477.09" r="1.6" fill="#fff" shape-rendering="geometricPrecision"/>
<circle cx="74.6" cy="482.98" r="1.6" fill="#fff" shape-rendering="geometricPrecision"/>
<circle cx="80.42" cy="482.98" r="1.6" fill="#fff" shape-rendering="geometricPrecision"/>
<circle cx="86.24" cy="482.98" r="1.6" fill="#fff" shape-rendering="geometricPrecision"/>
<circle cx="92.06" cy="482.98" r="1.6" fill="#fff" shape-rendering="geometricPrecision"/>
<circle cx="97.88" cy="482.98" r="1.6" fill="#fff" shape-rendering="geometricPrecision"/>
<circle cx="103.7" cy="482.98" r="1.6" fill="#fff" shape-rendering="geometricPrecision"/>
<circle cx="109.52" cy="482.98" r="1.6" fill="#fff" shape-rendering="geometricPrecision"/>
<circle cx="115.34" cy="482.98" r="1.6" fill="#fff" shape-rendering="geometricPrecision"/>
<circle cx="121.16" cy="482.98" r="1.6" fill="#fff" shape-rendering="geometricPrecision"/>
<circle cx="126.98" cy="482.98" r="1.6" fill="#fff" shape-rendering="geometricPrecision"/>
<circle cx="132.8" cy="482.98" r="1.6" fill="#fff" shape-rendering="geometricPrecision"/>
<circle cx="138.62" cy="482.98" r="1.6" fill="#fff" shape-rendering="geometricPrecision"/>
<circle cx="144.44" cy="482.98" r="1.6" fill="#fff" shape-rendering="geometricPrecision"/>
<circle cx="150.26" cy="482.98" r="1.6" fill="#fff" shape-rendering="geometricPrecision"/>
<circle cx="156.08" cy="482.98" r="1.6" fill="#fff" shape-rendering="geometricPrecision"/>
<circle cx="74.6" cy="488.87" r="1.6" fill="#fff" shape-rendering="geometricPrecision"/>
<circle cx="80.42" cy="488.87" r="1.6" fill="#fff" shape-rendering="geometricPrecision"/>
<circle cx="86.24" cy="488.87" r="1.6" fill="#fff" shape-rendering="geometricPrecision"/>
<circle cx="92.06" cy="488.87" r="1.6" fill="#fff" shape-rendering="geometricPrecision"/>
<circle cx="97.88" cy="488.87" r="1.6" fill="#fff" shape-rendering="geometricPrecision"/>
<circle cx="103.7" cy="488.87" r="1.6" fill="#fff" shape-rendering="geometricPrecision"/>
<circle cx="109.52" cy="488.87" r="1.6" fill="#fff" shape-rendering="geometricPrecision"/>
<circle cx="115.34" cy="488.87" r="1.6" fill="#fff" shape-rendering="geometricPrecision"/>
<circle cx="121.16" cy="488.87" r="1.6" fill="#fff" shape-rendering="geometricPrecision"/>
<circle cx="126.98" cy="488.87" r="1.6" fill="#fff" shape-rendering="geometricPrecision"/>
<circle cx="132.8" cy="488.87" r="1.6" fill="#fff" shape-rendering="geometricPrecision"/>
<circle cx="138.62" cy="488.87" r="1.6" fill="#fff" shape-rendering="geometricPrecision"/>
<circle cx="144.44" cy="488.87" r="1.6" fill="#fff" shape-rendering="geometricPrecision"/>
<circle cx="150.26" cy="488.87" r="1.6" fill="#fff" shape-rendering="geometricPrecision"/>
<circle cx="156.08" cy="488.87" r="1.6" fill="#fff" shape-rendering="geometricPrecision"/>
<circle cx="74.6" cy="494.76" r="1.6" fill="#fff" shape-rendering="geometricPrecision"/>
<circle cx="80.42" cy="494.76" r="1.6" fill="#fff" shape-rendering="geometricPrecision"/>
<circle cx="86.24" cy="494.76" r="1.6" fill="#fff" shape-rendering="geometricPrecision"/>
<circle cx="92.06" cy="494.76" r="1.6" fill="#fff" shape-rendering="geometricPrecision"/>
<circle cx="97.88" cy="494.76" r="1.6" fill="#fff" shape-rendering="geometricPrecision"/>
<circle cx="103.7" cy="494.76" r="1.6" fill="#fff" shape-rendering="geometricPrecision"/>
<circle cx="109.52" cy="494.76" r="1.6" fill="#fff" shape-rendering="geometricPrecision"/>
<circle cx="115.34" cy="494.76" r="1.6" fill="#fff" shape-rendering="geometricPrecision"/>
<circle cx="121.16" cy="494.76" r="1.6" fill="#fff" shape-rendering="geometricPrecision"/>
<circle cx="126.98" cy="494.76" r="1.6" fill="#fff" shape-rendering="geometricPrecision"/>
<circle cx="132.8" cy="494.76" r="1.6" fill="#fff" shape-rendering="geometricPrecision"/>
<circle cx="138.62" cy="494.76" r="1.6" fill="#fff" shape-rendering="geometricPrecision"/>
<circle cx="144.44" cy="494.76" r="1.6" fill="#fff" shape-rendering="geometricPrecision"/>
<circle cx="150.26" cy="494.76" r="1.6" fill="#fff" shape-rendering="geometricPrecision"/>
<circle cx="156.08" cy="494.76" r="1.6" fill="#fff" shape-rendering="geometricPrecision"/>
<circle cx="134.2" cy="434.2" r="1.7" fill="#000" shape-rendering="geometricPrecision"/>
<rect x="776" y="66" width="43" height="126" fill="#000"/>
<rect x="816" y="69" width="1" height="3" fill="#fff"/>
<rect x="816" y="76" width="1" height="4" fill="#fff"/>
<rect x="816" y="82" width="1" height="3" fill="#fff"/>
<rect x="816" y="89" width="1" height="4" fill="#fff"/>
<rect x="816" y="95" width="1" height="3" fill="#fff"/>
<rect x="816" y="102" width="1" height="4" fill="#fff"/>
<rect x="816" y="108" width="1" height="3" fill="#fff"/>
<rect x="816" y="115" width="1" height="4" fill="#fff"/>
<rect x="816" y="121" width="1" height="3" fill="#fff"/>
<rect x="816" y="128" width="1" height="4" fill="#fff"/>
<rect x="816" y="134" width="1" height="3" fill="#fff"/>
<rect x="816" y="141" width="1" height="4" fill="#fff"/>
<rect x="816" y="148" width="1" height="3" fill="#fff"/>
<rect x="816" y="154" width="1" height="4" fill="#fff"/>
<rect x="816" y="161" width="1" height="3" fill="#fff"/>
<rect x="816" y="167" width="1" height="4" fill="#fff"/>
<rect x="816" y="174" width="1" height="3" fill="#fff"/>
<rect x="816" y="180" width="1" height="4" fill="#fff"/>
<rect x="816" y="187" width="1" height="3" fill="#fff"/>
<ellipse cx="796.5" cy="192.5" rx="6" ry="2.6" fill="#fff" shape-rendering="geometricPrecision"/>
<rect x="794" y="435" width="25" height="37" fill="#000"/>
<rect x="818" y="430" width="3" height="46" fill="#000"/>
<rect x="821" y="428" width="3" height="51" fill="#000"/>
<rect x="787" y="443" width="5" height="7.6" fill="#000"/>
<rect x="788" y="444" width="3.2" height="5.6" fill="#fff"/>
<rect x="787" y="455.3" width="5" height="7.6" fill="#000"/>
<rect x="788" y="456.3" width="3.2" height="5.6" fill="#fff"/>
<rect x="791.2" y="441" width="3" height="24.5" fill="#000"/>
<rect x="792" y="442" width="2" height="9.5" fill="#fff"/>
<rect x="792" y="454.5" width="2" height="10" fill="#fff"/>
<rect x="792" y="451.6" width="1.2" height="3" fill="#000"/>
<rect x="715" y="406" width="25" height="112" fill="#000"/>
<rect x="716" y="407" width="23" height="110" fill="#fff"/>
<rect x="718" y="412" width="8" height="7" fill="#000"/>
<rect x="719" y="413" width="6" height="5" fill="#fff"/>
<rect x="718" y="421" width="8" height="7" fill="#000"/>
<rect x="719" y="422" width="6" height="5" fill="#fff"/>
<rect x="718" y="431" width="8" height="7" fill="#000"/>
<rect x="719" y="432" width="6" height="5" fill="#fff"/>
<rect x="718" y="440" width="8" height="7" fill="#000"/>
<rect x="719" y="441" width="6" height="5" fill="#fff"/>
<rect x="718" y="450" width="8" height="7" fill="#000"/>
<rect x="719" y="451" width="6" height="5" fill="#fff"/>
<rect x="718" y="459" width="8" height="7" fill="#000"/>
<rect x="719" y="460" width="6" height="5" fill="#fff"/>
<rect x="718" y="469" width="8" height="7" fill="#000"/>
<rect x="719" y="470" width="6" height="5" fill="#fff"/>
<rect x="718" y="478" width="8" height="7" fill="#000"/>
<rect x="719" y="479" width="6" height="5" fill="#fff"/>
<rect x="718" y="488" width="8" height="7" fill="#000"/>
<rect x="719" y="489" width="6" height="5" fill="#fff"/>
<rect x="718" y="497" width="8" height="7" fill="#000"/>
<rect x="719" y="498" width="6" height="5" fill="#fff"/>
<rect x="718" y="506" width="8" height="7" fill="#000"/>
<rect x="719" y="507" width="6" height="5" fill="#fff"/>
<rect x="727.3" y="408" width="1.8" height="6.8" fill="#000"/>
<rect x="727.3" y="417.1" width="1.8" height="6.8" fill="#000"/>
<rect x="727.3" y="426.2" width="1.8" height="6.8" fill="#000"/>
<rect x="727.3" y="435.3" width="1.8" height="6.8" fill="#000"/>
<rect x="727.3" y="444.4" width="1.8" height="6.8" fill="#000"/>
<rect x="727.3" y="453.5" width="1.8" height="6.8" fill="#000"/>
<rect x="727.3" y="462.6" width="1.8" height="6.8" fill="#000"/>
<rect x="727.3" y="471.7" width="1.8" height="6.8" fill="#000"/>
<rect x="727.3" y="480.8" width="1.8" height="6.8" fill="#000"/>
<rect x="727.3" y="489.9" width="1.8" height="6.8" fill="#000"/>
<rect x="727.3" y="499" width="1.8" height="6.8" fill="#000"/>
<rect x="727.3" y="508.1" width="1.8" height="6.8" fill="#000"/>
<rect x="730.8" y="407" width="1" height="110" fill="#000"/>
<rect x="731.8" y="408" width="4.4" height="6.8" fill="#000"/>
<rect x="733.8" y="409" width="1.4" height="4.8" fill="#fff"/>
<rect x="731.8" y="417.1" width="4.4" height="6.8" fill="#000"/>
<rect x="733.8" y="418.1" width="1.4" height="4.8" fill="#fff"/>
<rect x="731.8" y="426.2" width="4.4" height="6.8" fill="#000"/>
<rect x="733.8" y="427.2" width="1.4" height="4.8" fill="#fff"/>
<rect x="731.8" y="435.3" width="4.4" height="6.8" fill="#000"/>
<rect x="733.8" y="436.3" width="1.4" height="4.8" fill="#fff"/>
<rect x="731.8" y="444.4" width="4.4" height="6.8" fill="#000"/>
<rect x="733.8" y="445.4" width="1.4" height="4.8" fill="#fff"/>
<rect x="731.8" y="453.5" width="4.4" height="6.8" fill="#000"/>
<rect x="733.8" y="454.5" width="1.4" height="4.8" fill="#fff"/>
<rect x="731.8" y="462.6" width="4.4" height="6.8" fill="#000"/>
<rect x="733.8" y="463.6" width="1.4" height="4.8" fill="#fff"/>
<rect x="731.8" y="471.7" width="4.4" height="6.8" fill="#000"/>
<rect x="733.8" y="472.7" width="1.4" height="4.8" fill="#fff"/>
<rect x="731.8" y="480.8" width="4.4" height="6.8" fill="#000"/>
<rect x="733.8" y="481.8" width="1.4" height="4.8" fill="#fff"/>
<rect x="731.8" y="489.9" width="4.4" height="6.8" fill="#000"/>
<rect x="733.8" y="490.9" width="1.4" height="4.8" fill="#fff"/>
<rect x="731.8" y="499" width="4.4" height="6.8" fill="#000"/>
<rect x="733.8" y="500" width="1.4" height="4.8" fill="#fff"/>
<rect x="731.8" y="508.1" width="4.4" height="6.8" fill="#000"/>
<rect x="733.8" y="509.1" width="1.4" height="4.8" fill="#fff"/>
<rect x="718" y="407" width="1" height="2.5" fill="#000"/>
<rect x="724.3" y="407" width="1" height="2.5" fill="#000"/>
<rect x="718" y="408.8" width="7" height="1" fill="#000"/>
<rect x="719.5" y="407.5" width="1" height="1" fill="#fff"/>
<rect x="718" y="515" width="1" height="2" fill="#000"/>
<rect x="724.3" y="515" width="1" height="2" fill="#000"/>
<rect x="718" y="514.6" width="7" height="1" fill="#000"/>
<rect x="462" y="350" width="1" height="167" fill="#000"/>
<rect x="687" y="350" width="1" height="167" fill="#000"/>
<rect x="462" y="516" width="226" height="1" fill="#000"/>
<rect x="462" y="350" width="226" height="1" fill="#000"/>
<rect x="462" y="353" width="8" height="1" fill="#000"/>
<rect x="680" y="353" width="8" height="1" fill="#000"/>
<rect x="462" y="360" width="8" height="1" fill="#000"/>
<rect x="680" y="360" width="8" height="1" fill="#000"/>
<rect x="462" y="377" width="8" height="1" fill="#000"/>
<rect x="680" y="377" width="8" height="1" fill="#000"/>
<rect x="462" y="384" width="8" height="1" fill="#000"/>
<rect x="680" y="384" width="8" height="1" fill="#000"/>
<rect x="470" y="350" width="4" height="41" fill="#000"/>
<rect x="677" y="350" width="4" height="41" fill="#000"/>
<rect x="679" y="351" width="1" height="16" fill="#fff"/>
<rect x="474" y="352" width="10" height="1" fill="#000"/>
<rect x="483" y="352" width="1" height="11" fill="#000"/>
<rect x="480" y="362" width="4" height="1" fill="#000"/>
<rect x="480" y="359" width="1" height="8" fill="#000"/>
<rect x="476" y="359" width="5" height="1" fill="#000"/>
<rect x="476" y="359" width="1" height="5" fill="#000"/>
<rect x="474" y="363" width="3" height="1" fill="#000"/>
<rect x="474" y="366" width="7" height="1" fill="#000"/>
<rect x="474" y="376" width="10" height="1" fill="#000"/>
<rect x="483" y="376" width="1" height="11" fill="#000"/>
<rect x="480" y="386" width="4" height="1" fill="#000"/>
<rect x="480" y="383" width="1" height="8" fill="#000"/>
<rect x="476" y="383" width="5" height="1" fill="#000"/>
<rect x="476" y="383" width="1" height="5" fill="#000"/>
<rect x="474" y="387" width="3" height="1" fill="#000"/>
<rect x="474" y="390" width="7" height="1" fill="#000"/>
<rect x="667" y="352" width="10" height="1" fill="#000"/>
<rect x="667" y="352" width="1" height="11" fill="#000"/>
<rect x="667" y="362" width="4" height="1" fill="#000"/>
<rect x="670" y="359" width="1" height="8" fill="#000"/>
<rect x="670" y="359" width="5" height="1" fill="#000"/>
<rect x="674" y="359" width="1" height="5" fill="#000"/>
<rect x="674" y="363" width="3" height="1" fill="#000"/>
<rect x="670" y="366" width="7" height="1" fill="#000"/>
<rect x="667" y="376" width="10" height="1" fill="#000"/>
<rect x="667" y="376" width="1" height="11" fill="#000"/>
<rect x="667" y="386" width="4" height="1" fill="#000"/>
<rect x="670" y="383" width="1" height="8" fill="#000"/>
<rect x="670" y="383" width="5" height="1" fill="#000"/>
<rect x="674" y="383" width="1" height="5" fill="#000"/>
<rect x="674" y="387" width="3" height="1" fill="#000"/>
<rect x="670" y="390" width="7" height="1" fill="#000"/>
<rect x="488" y="352" width="175" height="14" fill="#000"/>
<rect x="491" y="353" width="4" height="6" fill="#fff"/>
<rect x="492" y="361" width="2" height="4" fill="#fff"/>
<rect x="497" y="353" width="4" height="6" fill="#fff"/>
<rect x="498" y="361" width="1" height="4" fill="#fff"/>
<rect x="502" y="353" width="5" height="6" fill="#fff"/>
<rect x="504" y="359" width="1" height="6" fill="#fff"/>
<rect x="508" y="353" width="4" height="6" fill="#fff"/>
<rect x="509" y="361" width="1" height="4" fill="#fff"/>
<rect x="514" y="353" width="4" height="6" fill="#fff"/>
<rect x="515" y="361" width="1" height="4" fill="#fff"/>
<rect x="520" y="353" width="4" height="6" fill="#fff"/>
<rect x="521" y="361" width="1" height="4" fill="#fff"/>
<rect x="525" y="353" width="5" height="6" fill="#fff"/>
<rect x="527" y="359" width="1" height="6" fill="#fff"/>
<rect x="532" y="353" width="4" height="6" fill="#fff"/>
<rect x="533" y="361" width="1" height="4" fill="#fff"/>
<rect x="538" y="353" width="4" height="6" fill="#fff"/>
<rect x="539" y="361" width="1" height="4" fill="#fff"/>
<rect x="543" y="353" width="4" height="6" fill="#fff"/>
<rect x="544" y="361" width="1" height="4" fill="#fff"/>
<rect x="548" y="353" width="5" height="6" fill="#fff"/>
<rect x="550" y="359" width="1" height="6" fill="#fff"/>
<rect x="555" y="353" width="4" height="6" fill="#fff"/>
<rect x="556" y="361" width="1" height="4" fill="#fff"/>
<rect x="561" y="353" width="4" height="6" fill="#fff"/>
<rect x="562" y="361" width="2" height="4" fill="#fff"/>
<rect x="567" y="353" width="4" height="6" fill="#fff"/>
<rect x="568" y="361" width="1" height="4" fill="#fff"/>
<rect x="572" y="353" width="5" height="6" fill="#fff"/>
<rect x="574" y="359" width="1" height="6" fill="#fff"/>
<rect x="578" y="353" width="4" height="6" fill="#fff"/>
<rect x="579" y="361" width="1" height="4" fill="#fff"/>
<rect x="584" y="353" width="4" height="6" fill="#fff"/>
<rect x="585" y="361" width="1" height="4" fill="#fff"/>
<rect x="590" y="353" width="4" height="6" fill="#fff"/>
<rect x="591" y="361" width="1" height="4" fill="#fff"/>
<rect x="595" y="353" width="5" height="6" fill="#fff"/>
<rect x="597" y="359" width="1" height="6" fill="#fff"/>
<rect x="602" y="353" width="4" height="6" fill="#fff"/>
<rect x="603" y="361" width="1" height="4" fill="#fff"/>
<rect x="608" y="353" width="4" height="6" fill="#fff"/>
<rect x="609" y="361" width="1" height="4" fill="#fff"/>
<rect x="613" y="353" width="4" height="6" fill="#fff"/>
<rect x="614" y="361" width="1" height="4" fill="#fff"/>
<rect x="618" y="353" width="5" height="6" fill="#fff"/>
<rect x="620" y="359" width="1" height="6" fill="#fff"/>
<rect x="625" y="353" width="4" height="6" fill="#fff"/>
<rect x="626" y="361" width="1" height="4" fill="#fff"/>
<rect x="631" y="353" width="4" height="6" fill="#fff"/>
<rect x="632" y="361" width="2" height="4" fill="#fff"/>
<rect x="637" y="353" width="4" height="6" fill="#fff"/>
<rect x="638" y="361" width="1" height="4" fill="#fff"/>
<rect x="642" y="353" width="5" height="6" fill="#fff"/>
<rect x="644" y="359" width="1" height="6" fill="#fff"/>
<rect x="648" y="353" width="4" height="6" fill="#fff"/>
<rect x="649" y="361" width="1" height="4" fill="#fff"/>
<rect x="654" y="353" width="4" height="6" fill="#fff"/>
<rect x="655" y="361" width="1" height="4" fill="#fff"/>
<rect x="660" y="353" width="4" height="6" fill="#fff"/>
<rect x="661" y="361" width="1" height="4" fill="#fff"/>
<rect x="488" y="376" width="175" height="14" fill="#000"/>
<rect x="491" y="377" width="4" height="6" fill="#fff"/>
<rect x="492" y="385" width="2" height="4" fill="#fff"/>
<rect x="497" y="377" width="4" height="6" fill="#fff"/>
<rect x="498" y="385" width="1" height="4" fill="#fff"/>
<rect x="502" y="377" width="5" height="6" fill="#fff"/>
<rect x="504" y="383" width="1" height="6" fill="#fff"/>
<rect x="508" y="377" width="4" height="6" fill="#fff"/>
<rect x="509" y="385" width="1" height="4" fill="#fff"/>
<rect x="514" y="377" width="4" height="6" fill="#fff"/>
<rect x="515" y="385" width="1" height="4" fill="#fff"/>
<rect x="520" y="377" width="4" height="6" fill="#fff"/>
<rect x="521" y="385" width="1" height="4" fill="#fff"/>
<rect x="525" y="377" width="5" height="6" fill="#fff"/>
<rect x="527" y="383" width="1" height="6" fill="#fff"/>
<rect x="532" y="377" width="4" height="6" fill="#fff"/>
<rect x="533" y="385" width="1" height="4" fill="#fff"/>
<rect x="538" y="377" width="4" height="6" fill="#fff"/>
<rect x="539" y="385" width="1" height="4" fill="#fff"/>
<rect x="543" y="377" width="4" height="6" fill="#fff"/>
<rect x="544" y="385" width="1" height="4" fill="#fff"/>
<rect x="548" y="377" width="5" height="6" fill="#fff"/>
<rect x="550" y="383" width="1" height="6" fill="#fff"/>
<rect x="555" y="377" width="4" height="6" fill="#fff"/>
<rect x="556" y="385" width="1" height="4" fill="#fff"/>
<rect x="561" y="377" width="4" height="6" fill="#fff"/>
<rect x="562" y="385" width="2" height="4" fill="#fff"/>
<rect x="567" y="377" width="4" height="6" fill="#fff"/>
<rect x="568" y="385" width="1" height="4" fill="#fff"/>
<rect x="572" y="377" width="5" height="6" fill="#fff"/>
<rect x="574" y="383" width="1" height="6" fill="#fff"/>
<rect x="578" y="377" width="4" height="6" fill="#fff"/>
<rect x="579" y="385" width="1" height="4" fill="#fff"/>
<rect x="584" y="377" width="4" height="6" fill="#fff"/>
<rect x="585" y="385" width="1" height="4" fill="#fff"/>
<rect x="590" y="377" width="4" height="6" fill="#fff"/>
<rect x="591" y="385" width="1" height="4" fill="#fff"/>
<rect x="595" y="377" width="5" height="6" fill="#fff"/>
<rect x="597" y="383" width="1" height="6" fill="#fff"/>
<rect x="602" y="377" width="4" height="6" fill="#fff"/>
<rect x="603" y="385" width="1" height="4" fill="#fff"/>
<rect x="608" y="377" width="4" height="6" fill="#fff"/>
<rect x="609" y="385" width="1" height="4" fill="#fff"/>
<rect x="613" y="377" width="4" height="6" fill="#fff"/>
<rect x="614" y="385" width="1" height="4" fill="#fff"/>
<rect x="618" y="377" width="5" height="6" fill="#fff"/>
<rect x="620" y="383" width="1" height="6" fill="#fff"/>
<rect x="625" y="377" width="4" height="6" fill="#fff"/>
<rect x="626" y="385" width="1" height="4" fill="#fff"/>
<rect x="631" y="377" width="4" height="6" fill="#fff"/>
<rect x="632" y="385" width="2" height="4" fill="#fff"/>
<rect x="637" y="377" width="4" height="6" fill="#fff"/>
<rect x="638" y="385" width="1" height="4" fill="#fff"/>
<rect x="642" y="377" width="5" height="6" fill="#fff"/>
<rect x="644" y="383" width="1" height="6" fill="#fff"/>
<rect x="648" y="377" width="4" height="6" fill="#fff"/>
<rect x="649" y="385" width="1" height="4" fill="#fff"/>
<rect x="654" y="377" width="4" height="6" fill="#fff"/>
<rect x="655" y="385" width="1" height="4" fill="#fff"/>
<rect x="660" y="377" width="4" height="6" fill="#fff"/>
<rect x="661" y="385" width="1" height="4" fill="#fff"/>
<rect x="488" y="375" width="175" height="1" fill="#000"/>
<rect x="490" y="375" width="1" height="1" fill="#fff"/>
<rect x="493" y="375" width="1" height="1" fill="#fff"/>
<rect x="496" y="375" width="1" height="1" fill="#fff"/>
<rect x="499" y="375" width="1" height="1" fill="#fff"/>
<rect x="505" y="375" width="1" height="1" fill="#fff"/>
<rect x="508" y="375" width="1" height="1" fill="#fff"/>
<rect x="511" y="375" width="1" height="1" fill="#fff"/>
<rect x="514" y="375" width="1" height="1" fill="#fff"/>
<rect x="517" y="375" width="1" height="1" fill="#fff"/>
<rect x="524" y="375" width="1" height="1" fill="#fff"/>
<rect x="527" y="375" width="1" height="1" fill="#fff"/>
<rect x="530" y="375" width="1" height="1" fill="#fff"/>
<rect x="533" y="375" width="1" height="1" fill="#fff"/>
<rect x="536" y="375" width="1" height="1" fill="#fff"/>
<rect x="542" y="375" width="1" height="1" fill="#fff"/>
<rect x="545" y="375" width="1" height="1" fill="#fff"/>
<rect x="548" y="375" width="1" height="1" fill="#fff"/>
<rect x="551" y="375" width="1" height="1" fill="#fff"/>
<rect x="554" y="375" width="1" height="1" fill="#fff"/>
<rect x="560" y="375" width="1" height="1" fill="#fff"/>
<rect x="563" y="375" width="1" height="1" fill="#fff"/>
<rect x="566" y="375" width="1" height="1" fill="#fff"/>
<rect x="569" y="375" width="1" height="1" fill="#fff"/>
<rect x="572" y="375" width="1" height="1" fill="#fff"/>
<rect x="578" y="375" width="1" height="1" fill="#fff"/>
<rect x="582" y="375" width="1" height="1" fill="#fff"/>
<rect x="585" y="375" width="1" height="1" fill="#fff"/>
<rect x="588" y="375" width="1" height="1" fill="#fff"/>
<rect x="591" y="375" width="1" height="1" fill="#fff"/>
<rect x="597" y="375" width="1" height="1" fill="#fff"/>
<rect x="600" y="375" width="1" height="1" fill="#fff"/>
<rect x="603" y="375" width="1" height="1" fill="#fff"/>
<rect x="606" y="375" width="1" height="1" fill="#fff"/>
<rect x="609" y="375" width="1" height="1" fill="#fff"/>
<rect x="615" y="375" width="1" height="1" fill="#fff"/>
<rect x="618" y="375" width="1" height="1" fill="#fff"/>
<rect x="621" y="375" width="1" height="1" fill="#fff"/>
<rect x="624" y="375" width="1" height="1" fill="#fff"/>
<rect x="627" y="375" width="1" height="1" fill="#fff"/>
<rect x="633" y="375" width="1" height="1" fill="#fff"/>
<rect x="636" y="375" width="1" height="1" fill="#fff"/>
<rect x="639" y="375" width="1" height="1" fill="#fff"/>
<rect x="642" y="375" width="1" height="1" fill="#fff"/>
<rect x="646" y="375" width="1" height="1" fill="#fff"/>
<rect x="652" y="375" width="1" height="1" fill="#fff"/>
<rect x="655" y="375" width="1" height="1" fill="#fff"/>
<rect x="658" y="375" width="1" height="1" fill="#fff"/>
<rect x="661" y="375" width="1" height="1" fill="#fff"/>
<rect x="470" y="367" width="15" height="8" fill="#000"/>
<rect x="471" y="368" width="13" height="6" fill="#fff"/>
<rect x="666" y="367" width="16" height="8" fill="#000"/>
<rect x="667" y="368" width="14" height="6" fill="#fff"/>
<rect x="488" y="367" width="31" height="8" fill="#000"/>
<rect x="489" y="368" width="29" height="6" fill="#fff"/>
<rect x="523" y="367" width="30" height="8" fill="#000"/>
<rect x="524" y="368" width="28" height="6" fill="#fff"/>
<rect x="561" y="367" width="31" height="8" fill="#000"/>
<rect x="562" y="368" width="29" height="6" fill="#fff"/>
<rect x="599" y="367" width="29" height="8" fill="#000"/>
<rect x="600" y="368" width="27" height="6" fill="#fff"/>
<rect x="634" y="367" width="30" height="8" fill="#000"/>
<rect x="635" y="368" width="28" height="6" fill="#fff"/>
<rect x="474" y="390" width="203" height="1" fill="#000"/>
<rect x="462" y="391" width="226" height="1" fill="#000"/>
<rect x="462" y="395" width="8" height="1" fill="#000"/>
<rect x="680" y="395" width="8" height="1" fill="#000"/>
<rect x="462" y="402" width="8" height="1" fill="#000"/>
<rect x="680" y="402" width="8" height="1" fill="#000"/>
<rect x="462" y="419" width="8" height="1" fill="#000"/>
<rect x="680" y="419" width="8" height="1" fill="#000"/>
<rect x="462" y="426" width="8" height="1" fill="#000"/>
<rect x="680" y="426" width="8" height="1" fill="#000"/>
<rect x="470" y="391" width="4" height="42" fill="#000"/>
<rect x="677" y="391" width="4" height="42" fill="#000"/>
<rect x="679" y="393" width="1" height="16" fill="#fff"/>
<rect x="474" y="394" width="10" height="1" fill="#000"/>
<rect x="483" y="394" width="1" height="11" fill="#000"/>
<rect x="480" y="404" width="4" height="1" fill="#000"/>
<rect x="480" y="401" width="1" height="8" fill="#000"/>
<rect x="476" y="401" width="5" height="1" fill="#000"/>
<rect x="476" y="401" width="1" height="5" fill="#000"/>
<rect x="474" y="405" width="3" height="1" fill="#000"/>
<rect x="474" y="408" width="7" height="1" fill="#000"/>
<rect x="474" y="418" width="10" height="1" fill="#000"/>
<rect x="483" y="418" width="1" height="11" fill="#000"/>
<rect x="480" y="428" width="4" height="1" fill="#000"/>
<rect x="480" y="425" width="1" height="8" fill="#000"/>
<rect x="476" y="425" width="5" height="1" fill="#000"/>
<rect x="476" y="425" width="1" height="5" fill="#000"/>
<rect x="474" y="429" width="3" height="1" fill="#000"/>
<rect x="474" y="432" width="7" height="1" fill="#000"/>
<rect x="667" y="394" width="10" height="1" fill="#000"/>
<rect x="667" y="394" width="1" height="11" fill="#000"/>
<rect x="667" y="404" width="4" height="1" fill="#000"/>
<rect x="670" y="401" width="1" height="8" fill="#000"/>
<rect x="670" y="401" width="5" height="1" fill="#000"/>
<rect x="674" y="401" width="1" height="5" fill="#000"/>
<rect x="674" y="405" width="3" height="1" fill="#000"/>
<rect x="670" y="408" width="7" height="1" fill="#000"/>
<rect x="667" y="418" width="10" height="1" fill="#000"/>
<rect x="667" y="418" width="1" height="11" fill="#000"/>
<rect x="667" y="428" width="4" height="1" fill="#000"/>
<rect x="670" y="425" width="1" height="8" fill="#000"/>
<rect x="670" y="425" width="5" height="1" fill="#000"/>
<rect x="674" y="425" width="1" height="5" fill="#000"/>
<rect x="674" y="429" width="3" height="1" fill="#000"/>
<rect x="670" y="432" width="7" height="1" fill="#000"/>
<rect x="488" y="394" width="175" height="14" fill="#000"/>
<rect x="491" y="395" width="4" height="6" fill="#fff"/>
<rect x="492" y="403" width="2" height="4" fill="#fff"/>
<rect x="497" y="395" width="4" height="6" fill="#fff"/>
<rect x="498" y="403" width="1" height="4" fill="#fff"/>
<rect x="502" y="395" width="5" height="6" fill="#fff"/>
<rect x="504" y="401" width="1" height="6" fill="#fff"/>
<rect x="508" y="395" width="4" height="6" fill="#fff"/>
<rect x="509" y="403" width="1" height="4" fill="#fff"/>
<rect x="514" y="395" width="4" height="6" fill="#fff"/>
<rect x="515" y="403" width="1" height="4" fill="#fff"/>
<rect x="520" y="395" width="4" height="6" fill="#fff"/>
<rect x="521" y="403" width="1" height="4" fill="#fff"/>
<rect x="525" y="395" width="5" height="6" fill="#fff"/>
<rect x="527" y="401" width="1" height="6" fill="#fff"/>
<rect x="532" y="395" width="4" height="6" fill="#fff"/>
<rect x="533" y="403" width="1" height="4" fill="#fff"/>
<rect x="538" y="395" width="4" height="6" fill="#fff"/>
<rect x="539" y="403" width="1" height="4" fill="#fff"/>
<rect x="543" y="395" width="4" height="6" fill="#fff"/>
<rect x="544" y="403" width="1" height="4" fill="#fff"/>
<rect x="548" y="395" width="5" height="6" fill="#fff"/>
<rect x="550" y="401" width="1" height="6" fill="#fff"/>
<rect x="555" y="395" width="4" height="6" fill="#fff"/>
<rect x="556" y="403" width="1" height="4" fill="#fff"/>
<rect x="561" y="395" width="4" height="6" fill="#fff"/>
<rect x="562" y="403" width="2" height="4" fill="#fff"/>
<rect x="567" y="395" width="4" height="6" fill="#fff"/>
<rect x="568" y="403" width="1" height="4" fill="#fff"/>
<rect x="572" y="395" width="5" height="6" fill="#fff"/>
<rect x="574" y="401" width="1" height="6" fill="#fff"/>
<rect x="578" y="395" width="4" height="6" fill="#fff"/>
<rect x="579" y="403" width="1" height="4" fill="#fff"/>
<rect x="584" y="395" width="4" height="6" fill="#fff"/>
<rect x="585" y="403" width="1" height="4" fill="#fff"/>
<rect x="590" y="395" width="4" height="6" fill="#fff"/>
<rect x="591" y="403" width="1" height="4" fill="#fff"/>
<rect x="595" y="395" width="5" height="6" fill="#fff"/>
<rect x="597" y="401" width="1" height="6" fill="#fff"/>
<rect x="602" y="395" width="4" height="6" fill="#fff"/>
<rect x="603" y="403" width="1" height="4" fill="#fff"/>
<rect x="608" y="395" width="4" height="6" fill="#fff"/>
<rect x="609" y="403" width="1" height="4" fill="#fff"/>
<rect x="613" y="395" width="4" height="6" fill="#fff"/>
<rect x="614" y="403" width="1" height="4" fill="#fff"/>
<rect x="618" y="395" width="5" height="6" fill="#fff"/>
<rect x="620" y="401" width="1" height="6" fill="#fff"/>
<rect x="625" y="395" width="4" height="6" fill="#fff"/>
<rect x="626" y="403" width="1" height="4" fill="#fff"/>
<rect x="631" y="395" width="4" height="6" fill="#fff"/>
<rect x="632" y="403" width="2" height="4" fill="#fff"/>
<rect x="637" y="395" width="4" height="6" fill="#fff"/>
<rect x="638" y="403" width="1" height="4" fill="#fff"/>
<rect x="642" y="395" width="5" height="6" fill="#fff"/>
<rect x="644" y="401" width="1" height="6" fill="#fff"/>
<rect x="648" y="395" width="4" height="6" fill="#fff"/>
<rect x="649" y="403" width="1" height="4" fill="#fff"/>
<rect x="654" y="395" width="4" height="6" fill="#fff"/>
<rect x="655" y="403" width="1" height="4" fill="#fff"/>
<rect x="660" y="395" width="4" height="6" fill="#fff"/>
<rect x="661" y="403" width="1" height="4" fill="#fff"/>
<rect x="488" y="418" width="175" height="14" fill="#000"/>
<rect x="491" y="419" width="4" height="6" fill="#fff"/>
<rect x="492" y="427" width="2" height="4" fill="#fff"/>
<rect x="497" y="419" width="4" height="6" fill="#fff"/>
<rect x="498" y="427" width="1" height="4" fill="#fff"/>
<rect x="502" y="419" width="5" height="6" fill="#fff"/>
<rect x="504" y="425" width="1" height="6" fill="#fff"/>
<rect x="508" y="419" width="4" height="6" fill="#fff"/>
<rect x="509" y="427" width="1" height="4" fill="#fff"/>
<rect x="514" y="419" width="4" height="6" fill="#fff"/>
<rect x="515" y="427" width="1" height="4" fill="#fff"/>
<rect x="520" y="419" width="4" height="6" fill="#fff"/>
<rect x="521" y="427" width="1" height="4" fill="#fff"/>
<rect x="525" y="419" width="5" height="6" fill="#fff"/>
<rect x="527" y="425" width="1" height="6" fill="#fff"/>
<rect x="532" y="419" width="4" height="6" fill="#fff"/>
<rect x="533" y="427" width="1" height="4" fill="#fff"/>
<rect x="538" y="419" width="4" height="6" fill="#fff"/>
<rect x="539" y="427" width="1" height="4" fill="#fff"/>
<rect x="543" y="419" width="4" height="6" fill="#fff"/>
<rect x="544" y="427" width="1" height="4" fill="#fff"/>
<rect x="548" y="419" width="5" height="6" fill="#fff"/>
<rect x="550" y="425" width="1" height="6" fill="#fff"/>
<rect x="555" y="419" width="4" height="6" fill="#fff"/>
<rect x="556" y="427" width="1" height="4" fill="#fff"/>
<rect x="561" y="419" width="4" height="6" fill="#fff"/>
<rect x="562" y="427" width="2" height="4" fill="#fff"/>
<rect x="567" y="419" width="4" height="6" fill="#fff"/>
<rect x="568" y="427" width="1" height="4" fill="#fff"/>
<rect x="572" y="419" width="5" height="6" fill="#fff"/>
<rect x="574" y="425" width="1" height="6" fill="#fff"/>
<rect x="578" y="419" width="4" height="6" fill="#fff"/>
<rect x="579" y="427" width="1" height="4" fill="#fff"/>
<rect x="584" y="419" width="4" height="6" fill="#fff"/>
<rect x="585" y="427" width="1" height="4" fill="#fff"/>
<rect x="590" y="419" width="4" height="6" fill="#fff"/>
<rect x="591" y="427" width="1" height="4" fill="#fff"/>
<rect x="595" y="419" width="5" height="6" fill="#fff"/>
<rect x="597" y="425" width="1" height="6" fill="#fff"/>
<rect x="602" y="419" width="4" height="6" fill="#fff"/>
<rect x="603" y="427" width="1" height="4" fill="#fff"/>
<rect x="608" y="419" width="4" height="6" fill="#fff"/>
<rect x="609" y="427" width="1" height="4" fill="#fff"/>
<rect x="613" y="419" width="4" height="6" fill="#fff"/>
<rect x="614" y="427" width="1" height="4" fill="#fff"/>
<rect x="618" y="419" width="5" height="6" fill="#fff"/>
<rect x="620" y="425" width="1" height="6" fill="#fff"/>
<rect x="625" y="419" width="4" height="6" fill="#fff"/>
<rect x="626" y="427" width="1" height="4" fill="#fff"/>
<rect x="631" y="419" width="4" height="6" fill="#fff"/>
<rect x="632" y="427" width="2" height="4" fill="#fff"/>
<rect x="637" y="419" width="4" height="6" fill="#fff"/>
<rect x="638" y="427" width="1" height="4" fill="#fff"/>
<rect x="642" y="419" width="5" height="6" fill="#fff"/>
<rect x="644" y="425" width="1" height="6" fill="#fff"/>
<rect x="648" y="419" width="4" height="6" fill="#fff"/>
<rect x="649" y="427" width="1" height="4" fill="#fff"/>
<rect x="654" y="419" width="4" height="6" fill="#fff"/>
<rect x="655" y="427" width="1" height="4" fill="#fff"/>
<rect x="660" y="419" width="4" height="6" fill="#fff"/>
<rect x="661" y="427" width="1" height="4" fill="#fff"/>
<rect x="488" y="417" width="175" height="1" fill="#000"/>
<rect x="490" y="417" width="1" height="1" fill="#fff"/>
<rect x="493" y="417" width="1" height="1" fill="#fff"/>
<rect x="496" y="417" width="1" height="1" fill="#fff"/>
<rect x="499" y="417" width="1" height="1" fill="#fff"/>
<rect x="505" y="417" width="1" height="1" fill="#fff"/>
<rect x="508" y="417" width="1" height="1" fill="#fff"/>
<rect x="511" y="417" width="1" height="1" fill="#fff"/>
<rect x="514" y="417" width="1" height="1" fill="#fff"/>
<rect x="517" y="417" width="1" height="1" fill="#fff"/>
<rect x="524" y="417" width="1" height="1" fill="#fff"/>
<rect x="527" y="417" width="1" height="1" fill="#fff"/>
<rect x="530" y="417" width="1" height="1" fill="#fff"/>
<rect x="533" y="417" width="1" height="1" fill="#fff"/>
<rect x="536" y="417" width="1" height="1" fill="#fff"/>
<rect x="542" y="417" width="1" height="1" fill="#fff"/>
<rect x="545" y="417" width="1" height="1" fill="#fff"/>
<rect x="548" y="417" width="1" height="1" fill="#fff"/>
<rect x="551" y="417" width="1" height="1" fill="#fff"/>
<rect x="554" y="417" width="1" height="1" fill="#fff"/>
<rect x="560" y="417" width="1" height="1" fill="#fff"/>
<rect x="563" y="417" width="1" height="1" fill="#fff"/>
<rect x="566" y="417" width="1" height="1" fill="#fff"/>
<rect x="569" y="417" width="1" height="1" fill="#fff"/>
<rect x="572" y="417" width="1" height="1" fill="#fff"/>
<rect x="578" y="417" width="1" height="1" fill="#fff"/>
<rect x="582" y="417" width="1" height="1" fill="#fff"/>
<rect x="585" y="417" width="1" height="1" fill="#fff"/>
<rect x="588" y="417" width="1" height="1" fill="#fff"/>
<rect x="591" y="417" width="1" height="1" fill="#fff"/>
<rect x="597" y="417" width="1" height="1" fill="#fff"/>
<rect x="600" y="417" width="1" height="1" fill="#fff"/>
<rect x="603" y="417" width="1" height="1" fill="#fff"/>
<rect x="606" y="417" width="1" height="1" fill="#fff"/>
<rect x="609" y="417" width="1" height="1" fill="#fff"/>
<rect x="615" y="417" width="1" height="1" fill="#fff"/>
<rect x="618" y="417" width="1" height="1" fill="#fff"/>
<rect x="621" y="417" width="1" height="1" fill="#fff"/>
<rect x="624" y="417" width="1" height="1" fill="#fff"/>
<rect x="627" y="417" width="1" height="1" fill="#fff"/>
<rect x="633" y="417" width="1" height="1" fill="#fff"/>
<rect x="636" y="417" width="1" height="1" fill="#fff"/>
<rect x="639" y="417" width="1" height="1" fill="#fff"/>
<rect x="642" y="417" width="1" height="1" fill="#fff"/>
<rect x="646" y="417" width="1" height="1" fill="#fff"/>
<rect x="652" y="417" width="1" height="1" fill="#fff"/>
<rect x="655" y="417" width="1" height="1" fill="#fff"/>
<rect x="658" y="417" width="1" height="1" fill="#fff"/>
<rect x="661" y="417" width="1" height="1" fill="#fff"/>
<rect x="470" y="409" width="15" height="8" fill="#000"/>
<rect x="471" y="410" width="13" height="6" fill="#fff"/>
<rect x="666" y="409" width="16" height="8" fill="#000"/>
<rect x="667" y="410" width="14" height="6" fill="#fff"/>
<rect x="488" y="409" width="31" height="8" fill="#000"/>
<rect x="489" y="410" width="29" height="6" fill="#fff"/>
<rect x="523" y="409" width="30" height="8" fill="#000"/>
<rect x="524" y="410" width="28" height="6" fill="#fff"/>
<rect x="561" y="409" width="31" height="8" fill="#000"/>
<rect x="562" y="410" width="29" height="6" fill="#fff"/>
<rect x="599" y="409" width="29" height="8" fill="#000"/>
<rect x="600" y="410" width="27" height="6" fill="#fff"/>
<rect x="634" y="409" width="30" height="8" fill="#000"/>
<rect x="635" y="410" width="28" height="6" fill="#fff"/>
<rect x="474" y="432" width="203" height="1" fill="#000"/>
<rect x="462" y="433" width="226" height="1" fill="#000"/>
<rect x="462" y="436" width="8" height="1" fill="#000"/>
<rect x="680" y="436" width="8" height="1" fill="#000"/>
<rect x="462" y="443" width="8" height="1" fill="#000"/>
<rect x="680" y="443" width="8" height="1" fill="#000"/>
<rect x="462" y="460" width="8" height="1" fill="#000"/>
<rect x="680" y="460" width="8" height="1" fill="#000"/>
<rect x="462" y="467" width="8" height="1" fill="#000"/>
<rect x="680" y="467" width="8" height="1" fill="#000"/>
<rect x="470" y="433" width="4" height="41" fill="#000"/>
<rect x="677" y="433" width="4" height="41" fill="#000"/>
<rect x="679" y="434" width="1" height="16" fill="#fff"/>
<rect x="474" y="435" width="10" height="1" fill="#000"/>
<rect x="483" y="435" width="1" height="11" fill="#000"/>
<rect x="480" y="445" width="4" height="1" fill="#000"/>
<rect x="480" y="442" width="1" height="8" fill="#000"/>
<rect x="476" y="442" width="5" height="1" fill="#000"/>
<rect x="476" y="442" width="1" height="5" fill="#000"/>
<rect x="474" y="446" width="3" height="1" fill="#000"/>
<rect x="474" y="449" width="7" height="1" fill="#000"/>
<rect x="474" y="459" width="10" height="1" fill="#000"/>
<rect x="483" y="459" width="1" height="11" fill="#000"/>
<rect x="480" y="469" width="4" height="1" fill="#000"/>
<rect x="480" y="466" width="1" height="8" fill="#000"/>
<rect x="476" y="466" width="5" height="1" fill="#000"/>
<rect x="476" y="466" width="1" height="5" fill="#000"/>
<rect x="474" y="470" width="3" height="1" fill="#000"/>
<rect x="474" y="473" width="7" height="1" fill="#000"/>
<rect x="667" y="435" width="10" height="1" fill="#000"/>
<rect x="667" y="435" width="1" height="11" fill="#000"/>
<rect x="667" y="445" width="4" height="1" fill="#000"/>
<rect x="670" y="442" width="1" height="8" fill="#000"/>
<rect x="670" y="442" width="5" height="1" fill="#000"/>
<rect x="674" y="442" width="1" height="5" fill="#000"/>
<rect x="674" y="446" width="3" height="1" fill="#000"/>
<rect x="670" y="449" width="7" height="1" fill="#000"/>
<rect x="667" y="459" width="10" height="1" fill="#000"/>
<rect x="667" y="459" width="1" height="11" fill="#000"/>
<rect x="667" y="469" width="4" height="1" fill="#000"/>
<rect x="670" y="466" width="1" height="8" fill="#000"/>
<rect x="670" y="466" width="5" height="1" fill="#000"/>
<rect x="674" y="466" width="1" height="5" fill="#000"/>
<rect x="674" y="470" width="3" height="1" fill="#000"/>
<rect x="670" y="473" width="7" height="1" fill="#000"/>
<rect x="488" y="435" width="175" height="14" fill="#000"/>
<rect x="491" y="436" width="4" height="6" fill="#fff"/>
<rect x="492" y="444" width="2" height="4" fill="#fff"/>
<rect x="497" y="436" width="4" height="6" fill="#fff"/>
<rect x="498" y="444" width="1" height="4" fill="#fff"/>
<rect x="502" y="436" width="5" height="6" fill="#fff"/>
<rect x="504" y="442" width="1" height="6" fill="#fff"/>
<rect x="508" y="436" width="4" height="6" fill="#fff"/>
<rect x="509" y="444" width="1" height="4" fill="#fff"/>
<rect x="514" y="436" width="4" height="6" fill="#fff"/>
<rect x="515" y="444" width="1" height="4" fill="#fff"/>
<rect x="520" y="436" width="4" height="6" fill="#fff"/>
<rect x="521" y="444" width="1" height="4" fill="#fff"/>
<rect x="525" y="436" width="5" height="6" fill="#fff"/>
<rect x="527" y="442" width="1" height="6" fill="#fff"/>
<rect x="532" y="436" width="4" height="6" fill="#fff"/>
<rect x="533" y="444" width="1" height="4" fill="#fff"/>
<rect x="538" y="436" width="4" height="6" fill="#fff"/>
<rect x="539" y="444" width="1" height="4" fill="#fff"/>
<rect x="543" y="436" width="4" height="6" fill="#fff"/>
<rect x="544" y="444" width="1" height="4" fill="#fff"/>
<rect x="548" y="436" width="5" height="6" fill="#fff"/>
<rect x="550" y="442" width="1" height="6" fill="#fff"/>
<rect x="555" y="436" width="4" height="6" fill="#fff"/>
<rect x="556" y="444" width="1" height="4" fill="#fff"/>
<rect x="561" y="436" width="4" height="6" fill="#fff"/>
<rect x="562" y="444" width="2" height="4" fill="#fff"/>
<rect x="567" y="436" width="4" height="6" fill="#fff"/>
<rect x="568" y="444" width="1" height="4" fill="#fff"/>
<rect x="572" y="436" width="5" height="6" fill="#fff"/>
<rect x="574" y="442" width="1" height="6" fill="#fff"/>
<rect x="578" y="436" width="4" height="6" fill="#fff"/>
<rect x="579" y="444" width="1" height="4" fill="#fff"/>
<rect x="584" y="436" width="4" height="6" fill="#fff"/>
<rect x="585" y="444" width="1" height="4" fill="#fff"/>
<rect x="590" y="436" width="4" height="6" fill="#fff"/>
<rect x="591" y="444" width="1" height="4" fill="#fff"/>
<rect x="595" y="436" width="5" height="6" fill="#fff"/>
<rect x="597" y="442" width="1" height="6" fill="#fff"/>
<rect x="602" y="436" width="4" height="6" fill="#fff"/>
<rect x="603" y="444" width="1" height="4" fill="#fff"/>
<rect x="608" y="436" width="4" height="6" fill="#fff"/>
<rect x="609" y="444" width="1" height="4" fill="#fff"/>
<rect x="613" y="436" width="4" height="6" fill="#fff"/>
<rect x="614" y="444" width="1" height="4" fill="#fff"/>
<rect x="618" y="436" width="5" height="6" fill="#fff"/>
<rect x="620" y="442" width="1" height="6" fill="#fff"/>
<rect x="625" y="436" width="4" height="6" fill="#fff"/>
<rect x="626" y="444" width="1" height="4" fill="#fff"/>
<rect x="631" y="436" width="4" height="6" fill="#fff"/>
<rect x="632" y="444" width="2" height="4" fill="#fff"/>
<rect x="637" y="436" width="4" height="6" fill="#fff"/>
<rect x="638" y="444" width="1" height="4" fill="#fff"/>
<rect x="642" y="436" width="5" height="6" fill="#fff"/>
<rect x="644" y="442" width="1" height="6" fill="#fff"/>
<rect x="648" y="436" width="4" height="6" fill="#fff"/>
<rect x="649" y="444" width="1" height="4" fill="#fff"/>
<rect x="654" y="436" width="4" height="6" fill="#fff"/>
<rect x="655" y="444" width="1" height="4" fill="#fff"/>
<rect x="660" y="436" width="4" height="6" fill="#fff"/>
<rect x="661" y="444" width="1" height="4" fill="#fff"/>
<rect x="488" y="459" width="175" height="14" fill="#000"/>
<rect x="491" y="460" width="4" height="6" fill="#fff"/>
<rect x="492" y="468" width="2" height="4" fill="#fff"/>
<rect x="497" y="460" width="4" height="6" fill="#fff"/>
<rect x="498" y="468" width="1" height="4" fill="#fff"/>
<rect x="502" y="460" width="5" height="6" fill="#fff"/>
<rect x="504" y="466" width="1" height="6" fill="#fff"/>
<rect x="508" y="460" width="4" height="6" fill="#fff"/>
<rect x="509" y="468" width="1" height="4" fill="#fff"/>
<rect x="514" y="460" width="4" height="6" fill="#fff"/>
<rect x="515" y="468" width="1" height="4" fill="#fff"/>
<rect x="520" y="460" width="4" height="6" fill="#fff"/>
<rect x="521" y="468" width="1" height="4" fill="#fff"/>
<rect x="525" y="460" width="5" height="6" fill="#fff"/>
<rect x="527" y="466" width="1" height="6" fill="#fff"/>
<rect x="532" y="460" width="4" height="6" fill="#fff"/>
<rect x="533" y="468" width="1" height="4" fill="#fff"/>
<rect x="538" y="460" width="4" height="6" fill="#fff"/>
<rect x="539" y="468" width="1" height="4" fill="#fff"/>
<rect x="543" y="460" width="4" height="6" fill="#fff"/>
<rect x="544" y="468" width="1" height="4" fill="#fff"/>
<rect x="548" y="460" width="5" height="6" fill="#fff"/>
<rect x="550" y="466" width="1" height="6" fill="#fff"/>
<rect x="555" y="460" width="4" height="6" fill="#fff"/>
<rect x="556" y="468" width="1" height="4" fill="#fff"/>
<rect x="561" y="460" width="4" height="6" fill="#fff"/>
<rect x="562" y="468" width="2" height="4" fill="#fff"/>
<rect x="567" y="460" width="4" height="6" fill="#fff"/>
<rect x="568" y="468" width="1" height="4" fill="#fff"/>
<rect x="572" y="460" width="5" height="6" fill="#fff"/>
<rect x="574" y="466" width="1" height="6" fill="#fff"/>
<rect x="578" y="460" width="4" height="6" fill="#fff"/>
<rect x="579" y="468" width="1" height="4" fill="#fff"/>
<rect x="584" y="460" width="4" height="6" fill="#fff"/>
<rect x="585" y="468" width="1" height="4" fill="#fff"/>
<rect x="590" y="460" width="4" height="6" fill="#fff"/>
<rect x="591" y="468" width="1" height="4" fill="#fff"/>
<rect x="595" y="460" width="5" height="6" fill="#fff"/>
<rect x="597" y="466" width="1" height="6" fill="#fff"/>
<rect x="602" y="460" width="4" height="6" fill="#fff"/>
<rect x="603" y="468" width="1" height="4" fill="#fff"/>
<rect x="608" y="460" width="4" height="6" fill="#fff"/>
<rect x="609" y="468" width="1" height="4" fill="#fff"/>
<rect x="613" y="460" width="4" height="6" fill="#fff"/>
<rect x="614" y="468" width="1" height="4" fill="#fff"/>
<rect x="618" y="460" width="5" height="6" fill="#fff"/>
<rect x="620" y="466" width="1" height="6" fill="#fff"/>
<rect x="625" y="460" width="4" height="6" fill="#fff"/>
<rect x="626" y="468" width="1" height="4" fill="#fff"/>
<rect x="631" y="460" width="4" height="6" fill="#fff"/>
<rect x="632" y="468" width="2" height="4" fill="#fff"/>
<rect x="637" y="460" width="4" height="6" fill="#fff"/>
<rect x="638" y="468" width="1" height="4" fill="#fff"/>
<rect x="642" y="460" width="5" height="6" fill="#fff"/>
<rect x="644" y="466" width="1" height="6" fill="#fff"/>
<rect x="648" y="460" width="4" height="6" fill="#fff"/>
<rect x="649" y="468" width="1" height="4" fill="#fff"/>
<rect x="654" y="460" width="4" height="6" fill="#fff"/>
<rect x="655" y="468" width="1" height="4" fill="#fff"/>
<rect x="660" y="460" width="4" height="6" fill="#fff"/>
<rect x="661" y="468" width="1" height="4" fill="#fff"/>
<rect x="488" y="458" width="175" height="1" fill="#000"/>
<rect x="490" y="458" width="1" height="1" fill="#fff"/>
<rect x="493" y="458" width="1" height="1" fill="#fff"/>
<rect x="496" y="458" width="1" height="1" fill="#fff"/>
<rect x="499" y="458" width="1" height="1" fill="#fff"/>
<rect x="505" y="458" width="1" height="1" fill="#fff"/>
<rect x="508" y="458" width="1" height="1" fill="#fff"/>
<rect x="511" y="458" width="1" height="1" fill="#fff"/>
<rect x="514" y="458" width="1" height="1" fill="#fff"/>
<rect x="517" y="458" width="1" height="1" fill="#fff"/>
<rect x="524" y="458" width="1" height="1" fill="#fff"/>
<rect x="527" y="458" width="1" height="1" fill="#fff"/>
<rect x="530" y="458" width="1" height="1" fill="#fff"/>
<rect x="533" y="458" width="1" height="1" fill="#fff"/>
<rect x="536" y="458" width="1" height="1" fill="#fff"/>
<rect x="542" y="458" width="1" height="1" fill="#fff"/>
<rect x="545" y="458" width="1" height="1" fill="#fff"/>
<rect x="548" y="458" width="1" height="1" fill="#fff"/>
<rect x="551" y="458" width="1" height="1" fill="#fff"/>
<rect x="554" y="458" width="1" height="1" fill="#fff"/>
<rect x="560" y="458" width="1" height="1" fill="#fff"/>
<rect x="563" y="458" width="1" height="1" fill="#fff"/>
<rect x="566" y="458" width="1" height="1" fill="#fff"/>
<rect x="569" y="458" width="1" height="1" fill="#fff"/>
<rect x="572" y="458" width="1" height="1" fill="#fff"/>
<rect x="578" y="458" width="1" height="1" fill="#fff"/>
<rect x="582" y="458" width="1" height="1" fill="#fff"/>
<rect x="585" y="458" width="1" height="1" fill="#fff"/>
<rect x="588" y="458" width="1" height="1" fill="#fff"/>
<rect x="591" y="458" width="1" height="1" fill="#fff"/>
<rect x="597" y="458" width="1" height="1" fill="#fff"/>
<rect x="600" y="458" width="1" height="1" fill="#fff"/>
<rect x="603" y="458" width="1" height="1" fill="#fff"/>
<rect x="606" y="458" width="1" height="1" fill="#fff"/>
<rect x="609" y="458" width="1" height="1" fill="#fff"/>
<rect x="615" y="458" width="1" height="1" fill="#fff"/>
<rect x="618" y="458" width="1" height="1" fill="#fff"/>
<rect x="621" y="458" width="1" height="1" fill="#fff"/>
<rect x="624" y="458" width="1" height="1" fill="#fff"/>
<rect x="627" y="458" width="1" height="1" fill="#fff"/>
<rect x="633" y="458" width="1" height="1" fill="#fff"/>
<rect x="636" y="458" width="1" height="1" fill="#fff"/>
<rect x="639" y="458" width="1" height="1" fill="#fff"/>
<rect x="642" y="458" width="1" height="1" fill="#fff"/>
<rect x="646" y="458" width="1" height="1" fill="#fff"/>
<rect x="652" y="458" width="1" height="1" fill="#fff"/>
<rect x="655" y="458" width="1" height="1" fill="#fff"/>
<rect x="658" y="458" width="1" height="1" fill="#fff"/>
<rect x="661" y="458" width="1" height="1" fill="#fff"/>
<rect x="470" y="450" width="15" height="8" fill="#000"/>
<rect x="471" y="451" width="13" height="6" fill="#fff"/>
<rect x="666" y="450" width="16" height="8" fill="#000"/>
<rect x="667" y="451" width="14" height="6" fill="#fff"/>
<rect x="488" y="450" width="31" height="8" fill="#000"/>
<rect x="489" y="451" width="29" height="6" fill="#fff"/>
<rect x="523" y="450" width="30" height="8" fill="#000"/>
<rect x="524" y="451" width="28" height="6" fill="#fff"/>
<rect x="561" y="450" width="31" height="8" fill="#000"/>
<rect x="562" y="451" width="29" height="6" fill="#fff"/>
<rect x="599" y="450" width="29" height="8" fill="#000"/>
<rect x="600" y="451" width="27" height="6" fill="#fff"/>
<rect x="634" y="450" width="30" height="8" fill="#000"/>
<rect x="635" y="451" width="28" height="6" fill="#fff"/>
<rect x="474" y="473" width="203" height="1" fill="#000"/>
<rect x="462" y="474" width="226" height="1" fill="#000"/>
<rect x="462" y="478" width="8" height="1" fill="#000"/>
<rect x="680" y="478" width="8" height="1" fill="#000"/>
<rect x="462" y="485" width="8" height="1" fill="#000"/>
<rect x="680" y="485" width="8" height="1" fill="#000"/>
<rect x="462" y="502" width="8" height="1" fill="#000"/>
<rect x="680" y="502" width="8" height="1" fill="#000"/>
<rect x="462" y="509" width="8" height="1" fill="#000"/>
<rect x="680" y="509" width="8" height="1" fill="#000"/>
<rect x="470" y="474" width="4" height="42" fill="#000"/>
<rect x="677" y="474" width="4" height="42" fill="#000"/>
<rect x="679" y="476" width="1" height="16" fill="#fff"/>
<rect x="474" y="477" width="10" height="1" fill="#000"/>
<rect x="483" y="477" width="1" height="11" fill="#000"/>
<rect x="480" y="487" width="4" height="1" fill="#000"/>
<rect x="480" y="484" width="1" height="8" fill="#000"/>
<rect x="476" y="484" width="5" height="1" fill="#000"/>
<rect x="476" y="484" width="1" height="5" fill="#000"/>
<rect x="474" y="488" width="3" height="1" fill="#000"/>
<rect x="474" y="491" width="7" height="1" fill="#000"/>
<rect x="474" y="501" width="10" height="1" fill="#000"/>
<rect x="483" y="501" width="1" height="11" fill="#000"/>
<rect x="480" y="511" width="4" height="1" fill="#000"/>
<rect x="480" y="508" width="1" height="8" fill="#000"/>
<rect x="476" y="508" width="5" height="1" fill="#000"/>
<rect x="476" y="508" width="1" height="5" fill="#000"/>
<rect x="474" y="512" width="3" height="1" fill="#000"/>
<rect x="474" y="515" width="7" height="1" fill="#000"/>
<rect x="667" y="477" width="10" height="1" fill="#000"/>
<rect x="667" y="477" width="1" height="11" fill="#000"/>
<rect x="667" y="487" width="4" height="1" fill="#000"/>
<rect x="670" y="484" width="1" height="8" fill="#000"/>
<rect x="670" y="484" width="5" height="1" fill="#000"/>
<rect x="674" y="484" width="1" height="5" fill="#000"/>
<rect x="674" y="488" width="3" height="1" fill="#000"/>
<rect x="670" y="491" width="7" height="1" fill="#000"/>
<rect x="667" y="501" width="10" height="1" fill="#000"/>
<rect x="667" y="501" width="1" height="11" fill="#000"/>
<rect x="667" y="511" width="4" height="1" fill="#000"/>
<rect x="670" y="508" width="1" height="8" fill="#000"/>
<rect x="670" y="508" width="5" height="1" fill="#000"/>
<rect x="674" y="508" width="1" height="5" fill="#000"/>
<rect x="674" y="512" width="3" height="1" fill="#000"/>
<rect x="670" y="515" width="7" height="1" fill="#000"/>
<rect x="488" y="477" width="175" height="14" fill="#000"/>
<rect x="491" y="478" width="4" height="6" fill="#fff"/>
<rect x="492" y="486" width="2" height="4" fill="#fff"/>
<rect x="497" y="478" width="4" height="6" fill="#fff"/>
<rect x="498" y="486" width="1" height="4" fill="#fff"/>
<rect x="502" y="478" width="5" height="6" fill="#fff"/>
<rect x="504" y="484" width="1" height="6" fill="#fff"/>
<rect x="508" y="478" width="4" height="6" fill="#fff"/>
<rect x="509" y="486" width="1" height="4" fill="#fff"/>
<rect x="514" y="478" width="4" height="6" fill="#fff"/>
<rect x="515" y="486" width="1" height="4" fill="#fff"/>
<rect x="520" y="478" width="4" height="6" fill="#fff"/>
<rect x="521" y="486" width="1" height="4" fill="#fff"/>
<rect x="525" y="478" width="5" height="6" fill="#fff"/>
<rect x="527" y="484" width="1" height="6" fill="#fff"/>
<rect x="532" y="478" width="4" height="6" fill="#fff"/>
<rect x="533" y="486" width="1" height="4" fill="#fff"/>
<rect x="538" y="478" width="4" height="6" fill="#fff"/>
<rect x="539" y="486" width="1" height="4" fill="#fff"/>
<rect x="543" y="478" width="4" height="6" fill="#fff"/>
<rect x="544" y="486" width="1" height="4" fill="#fff"/>
<rect x="548" y="478" width="5" height="6" fill="#fff"/>
<rect x="550" y="484" width="1" height="6" fill="#fff"/>
<rect x="555" y="478" width="4" height="6" fill="#fff"/>
<rect x="556" y="486" width="1" height="4" fill="#fff"/>
<rect x="561" y="478" width="4" height="6" fill="#fff"/>
<rect x="562" y="486" width="2" height="4" fill="#fff"/>
<rect x="567" y="478" width="4" height="6" fill="#fff"/>
<rect x="568" y="486" width="1" height="4" fill="#fff"/>
<rect x="572" y="478" width="5" height="6" fill="#fff"/>
<rect x="574" y="484" width="1" height="6" fill="#fff"/>
<rect x="578" y="478" width="4" height="6" fill="#fff"/>
<rect x="579" y="486" width="1" height="4" fill="#fff"/>
<rect x="584" y="478" width="4" height="6" fill="#fff"/>
<rect x="585" y="486" width="1" height="4" fill="#fff"/>
<rect x="590" y="478" width="4" height="6" fill="#fff"/>
<rect x="591" y="486" width="1" height="4" fill="#fff"/>
<rect x="595" y="478" width="5" height="6" fill="#fff"/>
<rect x="597" y="484" width="1" height="6" fill="#fff"/>
<rect x="602" y="478" width="4" height="6" fill="#fff"/>
<rect x="603" y="486" width="1" height="4" fill="#fff"/>
<rect x="608" y="478" width="4" height="6" fill="#fff"/>
<rect x="609" y="486" width="1" height="4" fill="#fff"/>
<rect x="613" y="478" width="4" height="6" fill="#fff"/>
<rect x="614" y="486" width="1" height="4" fill="#fff"/>
<rect x="618" y="478" width="5" height="6" fill="#fff"/>
<rect x="620" y="484" width="1" height="6" fill="#fff"/>
<rect x="625" y="478" width="4" height="6" fill="#fff"/>
<rect x="626" y="486" width="1" height="4" fill="#fff"/>
<rect x="631" y="478" width="4" height="6" fill="#fff"/>
<rect x="632" y="486" width="2" height="4" fill="#fff"/>
<rect x="637" y="478" width="4" height="6" fill="#fff"/>
<rect x="638" y="486" width="1" height="4" fill="#fff"/>
<rect x="642" y="478" width="5" height="6" fill="#fff"/>
<rect x="644" y="484" width="1" height="6" fill="#fff"/>
<rect x="648" y="478" width="4" height="6" fill="#fff"/>
<rect x="649" y="486" width="1" height="4" fill="#fff"/>
<rect x="654" y="478" width="4" height="6" fill="#fff"/>
<rect x="655" y="486" width="1" height="4" fill="#fff"/>
<rect x="660" y="478" width="4" height="6" fill="#fff"/>
<rect x="661" y="486" width="1" height="4" fill="#fff"/>
<rect x="488" y="501" width="175" height="14" fill="#000"/>
<rect x="491" y="502" width="4" height="6" fill="#fff"/>
<rect x="492" y="510" width="2" height="4" fill="#fff"/>
<rect x="497" y="502" width="4" height="6" fill="#fff"/>
<rect x="498" y="510" width="1" height="4" fill="#fff"/>
<rect x="502" y="502" width="5" height="6" fill="#fff"/>
<rect x="504" y="508" width="1" height="6" fill="#fff"/>
<rect x="508" y="502" width="4" height="6" fill="#fff"/>
<rect x="509" y="510" width="1" height="4" fill="#fff"/>
<rect x="514" y="502" width="4" height="6" fill="#fff"/>
<rect x="515" y="510" width="1" height="4" fill="#fff"/>
<rect x="520" y="502" width="4" height="6" fill="#fff"/>
<rect x="521" y="510" width="1" height="4" fill="#fff"/>
<rect x="525" y="502" width="5" height="6" fill="#fff"/>
<rect x="527" y="508" width="1" height="6" fill="#fff"/>
<rect x="532" y="502" width="4" height="6" fill="#fff"/>
<rect x="533" y="510" width="1" height="4" fill="#fff"/>
<rect x="538" y="502" width="4" height="6" fill="#fff"/>
<rect x="539" y="510" width="1" height="4" fill="#fff"/>
<rect x="543" y="502" width="4" height="6" fill="#fff"/>
<rect x="544" y="510" width="1" height="4" fill="#fff"/>
<rect x="548" y="502" width="5" height="6" fill="#fff"/>
<rect x="550" y="508" width="1" height="6" fill="#fff"/>
<rect x="555" y="502" width="4" height="6" fill="#fff"/>
<rect x="556" y="510" width="1" height="4" fill="#fff"/>
<rect x="561" y="502" width="4" height="6" fill="#fff"/>
<rect x="562" y="510" width="2" height="4" fill="#fff"/>
<rect x="567" y="502" width="4" height="6" fill="#fff"/>
<rect x="568" y="510" width="1" height="4" fill="#fff"/>
<rect x="572" y="502" width="5" height="6" fill="#fff"/>
<rect x="574" y="508" width="1" height="6" fill="#fff"/>
<rect x="578" y="502" width="4" height="6" fill="#fff"/>
<rect x="579" y="510" width="1" height="4" fill="#fff"/>
<rect x="584" y="502" width="4" height="6" fill="#fff"/>
<rect x="585" y="510" width="1" height="4" fill="#fff"/>
<rect x="590" y="502" width="4" height="6" fill="#fff"/>
<rect x="591" y="510" width="1" height="4" fill="#fff"/>
<rect x="595" y="502" width="5" height="6" fill="#fff"/>
<rect x="597" y="508" width="1" height="6" fill="#fff"/>
<rect x="602" y="502" width="4" height="6" fill="#fff"/>
<rect x="603" y="510" width="1" height="4" fill="#fff"/>
<rect x="608" y="502" width="4" height="6" fill="#fff"/>
<rect x="609" y="510" width="1" height="4" fill="#fff"/>
<rect x="613" y="502" width="4" height="6" fill="#fff"/>
<rect x="614" y="510" width="1" height="4" fill="#fff"/>
<rect x="618" y="502" width="5" height="6" fill="#fff"/>
<rect x="620" y="508" width="1" height="6" fill="#fff"/>
<rect x="625" y="502" width="4" height="6" fill="#fff"/>
<rect x="626" y="510" width="1" height="4" fill="#fff"/>
<rect x="631" y="502" width="4" height="6" fill="#fff"/>
<rect x="632" y="510" width="2" height="4" fill="#fff"/>
<rect x="637" y="502" width="4" height="6" fill="#fff"/>
<rect x="638" y="510" width="1" height="4" fill="#fff"/>
<rect x="642" y="502" width="5" height="6" fill="#fff"/>
<rect x="644" y="508" width="1" height="6" fill="#fff"/>
<rect x="648" y="502" width="4" height="6" fill="#fff"/>
<rect x="649" y="510" width="1" height="4" fill="#fff"/>
<rect x="654" y="502" width="4" height="6" fill="#fff"/>
<rect x="655" y="510" width="1" height="4" fill="#fff"/>
<rect x="660" y="502" width="4" height="6" fill="#fff"/>
<rect x="661" y="510" width="1" height="4" fill="#fff"/>
<rect x="488" y="500" width="175" height="1" fill="#000"/>
<rect x="490" y="500" width="1" height="1" fill="#fff"/>
<rect x="493" y="500" width="1" height="1" fill="#fff"/>
<rect x="496" y="500" width="1" height="1" fill="#fff"/>
<rect x="499" y="500" width="1" height="1" fill="#fff"/>
<rect x="505" y="500" width="1" height="1" fill="#fff"/>
<rect x="508" y="500" width="1" height="1" fill="#fff"/>
<rect x="511" y="500" width="1" height="1" fill="#fff"/>
<rect x="514" y="500" width="1" height="1" fill="#fff"/>
<rect x="517" y="500" width="1" height="1" fill="#fff"/>
<rect x="524" y="500" width="1" height="1" fill="#fff"/>
<rect x="527" y="500" width="1" height="1" fill="#fff"/>
<rect x="530" y="500" width="1" height="1" fill="#fff"/>
<rect x="533" y="500" width="1" height="1" fill="#fff"/>
<rect x="536" y="500" width="1" height="1" fill="#fff"/>
<rect x="542" y="500" width="1" height="1" fill="#fff"/>
<rect x="545" y="500" width="1" height="1" fill="#fff"/>
<rect x="548" y="500" width="1" height="1" fill="#fff"/>
<rect x="551" y="500" width="1" height="1" fill="#fff"/>
<rect x="554" y="500" width="1" height="1" fill="#fff"/>
<rect x="560" y="500" width="1" height="1" fill="#fff"/>
<rect x="563" y="500" width="1" height="1" fill="#fff"/>
<rect x="566" y="500" width="1" height="1" fill="#fff"/>
<rect x="569" y="500" width="1" height="1" fill="#fff"/>
<rect x="572" y="500" width="1" height="1" fill="#fff"/>
<rect x="578" y="500" width="1" height="1" fill="#fff"/>
<rect x="582" y="500" width="1" height="1" fill="#fff"/>
<rect x="585" y="500" width="1" height="1" fill="#fff"/>
<rect x="588" y="500" width="1" height="1" fill="#fff"/>
<rect x="591" y="500" width="1" height="1" fill="#fff"/>
<rect x="597" y="500" width="1" height="1" fill="#fff"/>
<rect x="600" y="500" width="1" height="1" fill="#fff"/>
<rect x="603" y="500" width="1" height="1" fill="#fff"/>
<rect x="606" y="500" width="1" height="1" fill="#fff"/>
<rect x="609" y="500" width="1" height="1" fill="#fff"/>
<rect x="615" y="500" width="1" height="1" fill="#fff"/>
<rect x="618" y="500" width="1" height="1" fill="#fff"/>
<rect x="621" y="500" width="1" height="1" fill="#fff"/>
<rect x="624" y="500" width="1" height="1" fill="#fff"/>
<rect x="627" y="500" width="1" height="1" fill="#fff"/>
<rect x="633" y="500" width="1" height="1" fill="#fff"/>
<rect x="636" y="500" width="1" height="1" fill="#fff"/>
<rect x="639" y="500" width="1" height="1" fill="#fff"/>
<rect x="642" y="500" width="1" height="1" fill="#fff"/>
<rect x="646" y="500" width="1" height="1" fill="#fff"/>
<rect x="652" y="500" width="1" height="1" fill="#fff"/>
<rect x="655" y="500" width="1" height="1" fill="#fff"/>
<rect x="658" y="500" width="1" height="1" fill="#fff"/>
<rect x="661" y="500" width="1" height="1" fill="#fff"/>
<rect x="470" y="492" width="15" height="8" fill="#000"/>
<rect x="471" y="493" width="13" height="6" fill="#fff"/>
<rect x="666" y="492" width="16" height="8" fill="#000"/>
<rect x="667" y="493" width="14" height="6" fill="#fff"/>
<rect x="488" y="492" width="31" height="8" fill="#000"/>
<rect x="489" y="493" width="29" height="6" fill="#fff"/>
<rect x="523" y="492" width="30" height="8" fill="#000"/>
<rect x="524" y="493" width="28" height="6" fill="#fff"/>
<rect x="561" y="492" width="31" height="8" fill="#000"/>
<rect x="562" y="493" width="29" height="6" fill="#fff"/>
<rect x="599" y="492" width="29" height="8" fill="#000"/>
<rect x="600" y="493" width="27" height="6" fill="#fff"/>
<rect x="634" y="492" width="30" height="8" fill="#000"/>
<rect x="635" y="493" width="28" height="6" fill="#fff"/>
<rect x="474" y="515" width="203" height="1" fill="#000"/>
<rect x="328.3" y="44" width="12.5" height="6.7" fill="#000"/>
<rect x="331.1" y="45.2" width="1.4" height="4.5" fill="#fff"/>
<rect x="334.5" y="45.2" width="1.2" height="4.5" fill="#fff"/>
<rect x="322.7" y="52.3" width="17.5" height="6.3" fill="#000"/>
<rect x="324.5" y="53.5" width="1.2" height="4.1" fill="#fff"/>
<rect x="328.7" y="53.5" width="1.1" height="4.1" fill="#fff"/>
<rect x="332.5" y="53.5" width="1.4" height="4.1" fill="#fff"/>
<rect x="336" y="54" width="3" height="3" fill="#fff"/>
<rect x="322.7" y="60" width="17.5" height="6.2" fill="#000"/>
<rect x="324.5" y="61.2" width="1.2" height="4" fill="#fff"/>
<rect x="328.7" y="61.2" width="1.1" height="4" fill="#fff"/>
<rect x="332.5" y="61.2" width="1.4" height="4" fill="#fff"/>
<rect x="336" y="61.8" width="3" height="2.8" fill="#fff"/>
<rect x="322.7" y="68.2" width="17.5" height="5" fill="#000"/>
<rect x="324.5" y="69.4" width="1.2" height="2.8" fill="#fff"/>
<rect x="328.7" y="69.4" width="1.1" height="2.8" fill="#fff"/>
<rect x="332.5" y="69.4" width="1.4" height="2.8" fill="#fff"/>
<rect x="336.5" y="69.5" width="3" height="2.8" fill="#fff"/>
<rect x="335" y="72" width="14" height="6.3" fill="#000"/>
<rect x="336.8" y="73.2" width="1.2" height="4.1" fill="#fff"/>
<rect x="341.2" y="73.2" width="1.2" height="4.1" fill="#fff"/>
<rect x="345.5" y="73.2" width="1.3" height="4.1" fill="#fff"/>
<rect x="328.3" y="84.8" width="12.5" height="5.6" fill="#000"/>
<rect x="330.5" y="86" width="1.6" height="3.4" fill="#fff"/>
<rect x="333.9" y="86" width="1.2" height="3.4" fill="#fff"/>
<rect x="328.3" y="91.3" width="12.5" height="6.5" fill="#000"/>
<rect x="330.5" y="92.5" width="1.6" height="4.3" fill="#fff"/>
<rect x="333.9" y="92.5" width="1.2" height="4.3" fill="#fff"/>
<rect x="328.3" y="99.4" width="12.5" height="6.3" fill="#000"/>
<rect x="330.5" y="100.6" width="1.6" height="4.1" fill="#fff"/>
<rect x="333.9" y="100.6" width="1.2" height="4.1" fill="#fff"/>
<rect x="328.3" y="107.6" width="12.5" height="5.6" fill="#000"/>
<rect x="330.5" y="108.8" width="1.6" height="3.4" fill="#fff"/>
<rect x="333.9" y="108.8" width="1.2" height="3.4" fill="#fff"/>
<rect x="328.3" y="116" width="12.5" height="5.4" fill="#000"/>
<rect x="330.5" y="117.2" width="1.6" height="3.2" fill="#fff"/>
<rect x="333.9" y="117.2" width="1.2" height="3.2" fill="#fff"/>
<rect x="329.5" y="102.5" width="6" height="0.9" fill="#fff"/>
<rect x="329.5" y="110.2" width="6" height="0.9" fill="#fff"/>
<rect x="803.8" y="201.8" width="13.3" height="7.2" fill="#000"/>
<rect x="805.3" y="203" width="1.2" height="5" fill="#fff"/>
<rect x="809.3" y="203" width="1.9" height="5" fill="#fff"/>
<rect x="458.8" y="306.9" width="19.4" height="6.9" fill="#000"/>
<rect x="460.7" y="308.1" width="1.2" height="4.7" fill="#fff"/>
<rect x="465.1" y="308.1" width="1.6" height="4.7" fill="#fff"/>
<rect x="470.7" y="308.1" width="1.6" height="4.7" fill="#fff"/>
<rect x="230" y="400.6" width="19.4" height="6.4" fill="#000"/>
<rect x="236.5" y="401.8" width="1.4" height="4.2" fill="#fff"/>
<rect x="240.5" y="401.8" width="1.4" height="4.2" fill="#fff"/>
<rect x="705" y="396.8" width="14" height="6.1" fill="#000"/>
<rect x="706.2" y="398" width="1.1" height="3.9" fill="#fff"/>
<rect x="711.1" y="398" width="1.7" height="3.9" fill="#fff"/>
<rect x="716.9" y="398" width="1.1" height="3.9" fill="#fff"/>
<rect x="741.2" y="484" width="19" height="7" fill="#000"/>
<rect x="746.9" y="485.2" width="1.1" height="4.8" fill="#fff"/>
<rect x="752" y="485.2" width="2.4" height="4.8" fill="#fff"/>
<rect x="758.4" y="485.2" width="1" height="4.8" fill="#fff"/>
<rect x="754" y="485.8" width="3" height="3.4" fill="#000"/>
<rect x="755" y="486.6" width="1.2" height="1.8" fill="#fff"/>
<rect x="786" y="331.7" width="26" height="7" fill="#000"/>
<rect x="787" y="332.7" width="24" height="5" fill="#fff"/>
<rect x="788" y="333" width="4" height="4" fill="#000"/>
<rect x="793" y="333" width="5" height="4" fill="#000"/>
<rect x="799" y="333" width="5" height="4" fill="#000"/>
<rect x="805" y="333" width="5" height="4" fill="#000"/>
<rect x="806" y="334" width="3" height="2" fill="#fff"/>
<rect x="68" y="346" width="7" height="18.7" fill="#000"/>
<rect x="70" y="347.5" width="1.2" height="15.7" fill="#fff"/>
<rect x="71" y="351.8" width="2.6" height="1.2" fill="#fff"/>
<rect x="71" y="356.7" width="2.6" height="1.2" fill="#fff"/>
<rect x="71.8" y="359.4" width="1.8" height="3" fill="#fff"/>
<rect x="70" y="362.1" width="3.6" height="1.1" fill="#fff"/>
<rect x="68" y="373" width="7" height="18.9" fill="#000"/>
<rect x="70" y="374.5" width="1.2" height="15.9" fill="#fff"/>
<rect x="71" y="378.8" width="2.6" height="1.2" fill="#fff"/>
<rect x="71" y="383.7" width="2.6" height="1.2" fill="#fff"/>
<rect x="71.8" y="386.4" width="1.8" height="3" fill="#fff"/>
<rect x="70" y="389.3" width="3.6" height="1.1" fill="#fff"/>
<rect x="99" y="387" width="7" height="14" fill="#000"/>
<rect x="100" y="388" width="5" height="12" fill="#fff"/>
<rect x="99" y="387" width="2" height="14" fill="#000"/>
<rect x="100" y="393" width="6" height="1" fill="#000"/>
<polyline points="86.5,236 93.5,243.5 175,243.5 178.8,248.5 182.5,243.5 266.5,243.5 272.5,236" fill="none" stroke="#000" stroke-width="1.2" shape-rendering="geometricPrecision"/>
<rect x="158" y="15" width="26" height="18" rx="3" ry="3" fill="#000" shape-rendering="geometricPrecision"/>
<polygon points="183,20 183,28 199,24.7 199,23.3" fill="#000" stroke="#000" stroke-width="0.9" stroke-linejoin="round" shape-rendering="geometricPrecision"/>
<rect x="159.4" y="16.4" width="22.2" height="14.2" rx="2" ry="2" fill="#fff" shape-rendering="geometricPrecision"/>
<polygon points="180.5,21.8 180.5,26.2 190.2,24" fill="#fff" shape-rendering="geometricPrecision"/>
<text filter="url(#crisp)" transform="translate(171.666,27.6) scale(0.84,1)" font-size="12.7" letter-spacing="2.3" text-anchor="middle">S1</text>
<rect x="52" y="38" width="26" height="19" rx="3" ry="3" fill="#000" shape-rendering="geometricPrecision"/>
<polygon points="61,56 67,56 64.1997,72.5212 62.8003,72.4788" fill="#000" stroke="#000" stroke-width="0.9" stroke-linejoin="round" shape-rendering="geometricPrecision"/>
<rect x="53.4" y="39.4" width="22.2" height="15.2" rx="2" ry="2" fill="#fff" shape-rendering="geometricPrecision"/>
<polygon points="62.4257,53.5011 65.7257,53.5011 63.775,63.425" fill="#fff" shape-rendering="geometricPrecision"/>
<text filter="url(#crisp)" transform="translate(63.666,50.8) scale(0.84,1)" font-size="12.7" letter-spacing="2.3" text-anchor="middle">J9</text>
<rect x="19" y="72" width="33" height="19" rx="3" ry="3" fill="#000" shape-rendering="geometricPrecision"/>
<polygon points="47.5,90.5 51.5,86.5 58.9806,96.4911 58.0194,97.5089" fill="#000" stroke="#000" stroke-width="0.9" stroke-linejoin="round" shape-rendering="geometricPrecision"/>
<rect x="20.4" y="73.4" width="29.2" height="15.2" rx="2" ry="2" fill="#fff" shape-rendering="geometricPrecision"/>
<polygon points="46.5825,87.8834 48.7825,85.6834 53.55,92.325" fill="#fff" shape-rendering="geometricPrecision"/>
<text filter="url(#crisp)" transform="translate(35.166,84) scale(0.84,1)" font-size="12.7" letter-spacing="2.3" text-anchor="middle">J10</text>
<rect x="7" y="108" width="36" height="19" rx="3" ry="3" fill="#000" shape-rendering="geometricPrecision"/>
<polygon points="42,113 42,121 58,117.7 58,116.3" fill="#000" stroke="#000" stroke-width="0.9" stroke-linejoin="round" shape-rendering="geometricPrecision"/>
<rect x="8.4" y="109.4" width="32.2" height="15.2" rx="2" ry="2" fill="#fff" shape-rendering="geometricPrecision"/>
<polygon points="39.5,114.8 39.5,119.2 49.2,117" fill="#fff" shape-rendering="geometricPrecision"/>
<text filter="url(#crisp)" transform="translate(24.666,120.8) scale(0.84,1)" font-size="12.7" letter-spacing="2.3" text-anchor="middle">J12</text>
<rect x="19" y="144" width="33" height="19" rx="3" ry="3" fill="#000" shape-rendering="geometricPrecision"/>
<polygon points="46.5,144.5 51.5,148 59.2749,137.714 58.3251,136.686" fill="#000" stroke="#000" stroke-width="0.9" stroke-linejoin="round" shape-rendering="geometricPrecision"/>
<rect x="20.4" y="145.4" width="29.2" height="15.2" rx="2" ry="2" fill="#fff" shape-rendering="geometricPrecision"/>
<polygon points="45.7884,146.984 48.5384,148.909 53.41,142.178" fill="#fff" shape-rendering="geometricPrecision"/>
<text filter="url(#crisp)" transform="translate(36.166,155.8) scale(0.84,1)" font-size="12.7" letter-spacing="2.3" text-anchor="middle">J11</text>
<rect x="47" y="193" width="31" height="19" rx="3" ry="3" fill="#000" shape-rendering="geometricPrecision"/>
<polygon points="59.5,194 66,194 63.9996,177.023 62.6004,176.977" fill="#000" stroke="#000" stroke-width="0.9" stroke-linejoin="round" shape-rendering="geometricPrecision"/>
<rect x="48.4" y="194.4" width="27.2" height="15.2" rx="2" ry="2" fill="#fff" shape-rendering="geometricPrecision"/>
<polygon points="60.8817,196.499 64.4567,196.499 62.9975,186.35" fill="#fff" shape-rendering="geometricPrecision"/>
<text filter="url(#crisp)" transform="translate(62.166,204.8) scale(0.84,1)" font-size="12.7" letter-spacing="2.3" text-anchor="middle">J13</text>
<rect x="264" y="38" width="49" height="18" rx="3" ry="3" fill="#000" shape-rendering="geometricPrecision"/>
<polygon points="312,43.5 312,50.5 327.987,47.9999 328.013,46.6001" fill="#000" stroke="#000" stroke-width="0.9" stroke-linejoin="round" shape-rendering="geometricPrecision"/>
<rect x="265.4" y="39.4" width="45.2" height="14.2" rx="2" ry="2" fill="#fff" shape-rendering="geometricPrecision"/>
<polygon points="309.5,45.0281 309.5,48.8781 319.2,47.135" fill="#fff" shape-rendering="geometricPrecision"/>
<text filter="url(#crisp)" transform="translate(288.166,49.8) scale(0.84,1)" font-size="12.7" letter-spacing="2.3" text-anchor="middle">JP100</text>
<rect x="287" y="62" width="34" height="18" rx="3" ry="3" fill="#000" shape-rendering="geometricPrecision"/>
<polygon points="316.5,79.5 320.5,76 328.763,85.8752 327.837,86.9248" fill="#000" stroke="#000" stroke-width="0.9" stroke-linejoin="round" shape-rendering="geometricPrecision"/>
<rect x="288.4" y="63.4" width="30.2" height="14.2" rx="2" ry="2" fill="#fff" shape-rendering="geometricPrecision"/>
<polygon points="315.526,77.0581 317.726,75.1331 322.91,81.6425" fill="#fff" shape-rendering="geometricPrecision"/>
<text filter="url(#crisp)" transform="translate(303.666,73.8) scale(0.84,1)" font-size="12.7" letter-spacing="2.3" text-anchor="middle">JP9</text>
<rect x="279" y="82" width="35" height="17" rx="3" ry="3" fill="#000" shape-rendering="geometricPrecision"/>
<polygon points="313,85.5 313,94.5 328.157,93.8852 328.443,92.5148" fill="#000" stroke="#000" stroke-width="0.9" stroke-linejoin="round" shape-rendering="geometricPrecision"/>
<rect x="280.4" y="83.4" width="31.2" height="13.2" rx="2" ry="2" fill="#fff" shape-rendering="geometricPrecision"/>
<polygon points="310.553,87.0132 310.553,91.9632 319.885,91.44" fill="#fff" shape-rendering="geometricPrecision"/>
<text filter="url(#crisp)" transform="translate(297.666,93.4) scale(0.84,1)" font-size="12.7" letter-spacing="2.3" text-anchor="middle">JP8</text>
<rect x="280" y="103" width="34" height="17" rx="3" ry="3" fill="#000" shape-rendering="geometricPrecision"/>
<polygon points="306,103.5 313.5,106.5 326.077,103.896 325.923,102.504" fill="#000" stroke="#000" stroke-width="0.9" stroke-linejoin="round" shape-rendering="geometricPrecision"/>
<rect x="281.4" y="104.4" width="30.2" height="13.2" rx="2" ry="2" fill="#fff" shape-rendering="geometricPrecision"/>
<polygon points="305.203,104.45 309.328,106.1 317.062,104.19" fill="#fff" shape-rendering="geometricPrecision"/>
<text filter="url(#crisp)" transform="translate(296.666,114.8) scale(0.84,1)" font-size="12.7" letter-spacing="2.3" text-anchor="middle">JP7</text>
<rect x="284" y="123" width="34" height="17" rx="3" ry="3" fill="#000" shape-rendering="geometricPrecision"/>
<polygon points="312,123.5 317.5,127 329.02,110.469 327.98,109.531" fill="#000" stroke="#000" stroke-width="0.9" stroke-linejoin="round" shape-rendering="geometricPrecision"/>
<rect x="285.4" y="124.4" width="30.2" height="13.2" rx="2" ry="2" fill="#fff" shape-rendering="geometricPrecision"/>
<polygon points="311.563,126.144 314.588,128.069 320.938,118.388" fill="#fff" shape-rendering="geometricPrecision"/>
<text filter="url(#crisp)" transform="translate(300.666,133.8) scale(0.84,1)" font-size="12.7" letter-spacing="2.3" text-anchor="middle">JP6</text>
<rect x="317" y="141" width="34" height="17" rx="3" ry="3" fill="#000" shape-rendering="geometricPrecision"/>
<polygon points="331.5,142 338.5,142 336,122.511 334.6,122.489" fill="#000" stroke="#000" stroke-width="0.9" stroke-linejoin="round" shape-rendering="geometricPrecision"/>
<rect x="318.4" y="142.4" width="30.2" height="13.2" rx="2" ry="2" fill="#fff" shape-rendering="geometricPrecision"/>
<polygon points="333.037,144.5 336.887,144.5 335.135,133.225" fill="#fff" shape-rendering="geometricPrecision"/>
<text filter="url(#crisp)" transform="translate(332.666,152.4) scale(0.84,1)" font-size="12.7" letter-spacing="2.3" text-anchor="middle">JP5</text>
<rect x="350.7" y="29.4" width="38.3" height="17" rx="3" ry="3" fill="#000" shape-rendering="geometricPrecision"/>
<polygon points="351.2,43 355.5,46 342.509,56.981 341.491,56.019" fill="#000" stroke="#000" stroke-width="0.9" stroke-linejoin="round" shape-rendering="geometricPrecision"/>
<rect x="352" y="30.7" width="34.5" height="13.2" rx="2" ry="2" fill="#fff" shape-rendering="geometricPrecision"/>
<polygon points="353.885,41.8587 356.25,43.5087 348.243,49.9" fill="#fff" shape-rendering="geometricPrecision"/>
<text filter="url(#crisp)" transform="translate(368.716,40.6) scale(0.84,1)" font-size="12.7" letter-spacing="2.3" text-anchor="middle">JP12</text>
<rect x="357.3" y="72.5" width="37.7" height="16" rx="3" ry="3" fill="#000" shape-rendering="geometricPrecision"/>
<polygon points="358.5,77 363,73.5 342.901,61.9262 342.099,63.0738" fill="#000" stroke="#000" stroke-width="0.9" stroke-linejoin="round" shape-rendering="geometricPrecision"/>
<rect x="358.7" y="73.9" width="36.1" height="14.4" rx="2" ry="2" fill="#fff" shape-rendering="geometricPrecision"/>
<polygon points="361.562,77.6443 364.037,75.7193 352.538,69.5125" fill="#fff" shape-rendering="geometricPrecision"/>
<text filter="url(#crisp)" transform="translate(376.816,84.3) scale(0.84,1)" font-size="12.7" letter-spacing="2.3" text-anchor="middle">JP11</text>
<rect x="346" y="91" width="38" height="17" rx="3" ry="3" fill="#000" shape-rendering="geometricPrecision"/>
<polygon points="346.5,95 351,91.5 338.104,73.6468 336.896,74.3532" fill="#000" stroke="#000" stroke-width="0.9" stroke-linejoin="round" shape-rendering="geometricPrecision"/>
<rect x="347.4" y="92.4" width="35.8" height="14.8" rx="2" ry="2" fill="#fff" shape-rendering="geometricPrecision"/>
<polygon points="348.774,96.3709 351.249,94.4459 343.688,84.5875" fill="#fff" shape-rendering="geometricPrecision"/>
<text filter="url(#crisp)" transform="translate(364.666,102.9) scale(0.84,1)" font-size="12.7" letter-spacing="2.3" text-anchor="middle">JP10</text>
<rect x="286" y="180" width="31" height="17" rx="3" ry="3" fill="#000" shape-rendering="geometricPrecision"/>
<rect x="287.4" y="181.4" width="27.2" height="13.2" rx="2" ry="2" fill="#fff" shape-rendering="geometricPrecision"/>
<text filter="url(#crisp)" transform="translate(301.166,191.8) scale(0.84,1)" font-size="12.7" letter-spacing="2.3" text-anchor="middle">TAG</text>
<rect x="153" y="250" width="50" height="18" rx="3" ry="3" fill="#000" shape-rendering="geometricPrecision"/>
<rect x="154.4" y="251.4" width="46.2" height="14.2" rx="2" ry="2" fill="#fff" shape-rendering="geometricPrecision"/>
<text filter="url(#crisp)" transform="translate(178.166,262.8) scale(0.84,1)" font-size="12.7" letter-spacing="2.3" text-anchor="middle">CACHE</text>
<rect x="131" y="318" width="29" height="15" rx="2" ry="2" fill="#fff" shape-rendering="geometricPrecision"/>
<text filter="url(#crisp)" transform="translate(146.166,329.8) scale(0.84,1)" font-size="12.7" letter-spacing="2.3" text-anchor="middle">CPU</text>
<rect x="50" y="306" width="41" height="18" rx="3" ry="3" fill="#000" shape-rendering="geometricPrecision"/>
<polygon points="65,323 72.5,323 70.6986,342.956 69.3014,343.044" fill="#000" stroke="#000" stroke-width="0.9" stroke-linejoin="round" shape-rendering="geometricPrecision"/>
<rect x="51.4" y="307.4" width="37.2" height="14.2" rx="2" ry="2" fill="#fff" shape-rendering="geometricPrecision"/>
<polygon points="66.5316,320.505 70.6566,320.505 69.3125,332" fill="#fff" shape-rendering="geometricPrecision"/>
<text filter="url(#crisp)" transform="translate(68.666,317.8) scale(0.84,1)" font-size="12.7" letter-spacing="2.3" text-anchor="middle">JP16</text>
<rect x="85" y="358" width="37" height="15" rx="3" ry="3" fill="#000" shape-rendering="geometricPrecision"/>
<polygon points="85.5,369 90,372.5 77.9253,382.963 76.8747,382.037" fill="#000" stroke="#000" stroke-width="0.9" stroke-linejoin="round" shape-rendering="geometricPrecision"/>
<rect x="86.4" y="359.4" width="35.1" height="13.1" rx="2" ry="2" fill="#fff" shape-rendering="geometricPrecision"/>
<polygon points="88.165,367.912 90.64,369.837 83.0925,376.038" fill="#fff" shape-rendering="geometricPrecision"/>
<text filter="url(#crisp)" transform="translate(103.166,370.5) scale(0.84,1)" font-size="12.7" letter-spacing="2.3" text-anchor="middle">JP15</text>
<rect x="125" y="384" width="41" height="18" rx="3" ry="3" fill="#000" shape-rendering="geometricPrecision"/>
<polygon points="126,389.5 126,397 110.407,394.1 110.393,392.7" fill="#000" stroke="#000" stroke-width="0.9" stroke-linejoin="round" shape-rendering="geometricPrecision"/>
<rect x="126.4" y="385.4" width="37.2" height="14.2" rx="2" ry="2" fill="#fff" shape-rendering="geometricPrecision"/>
<polygon points="128.5,391.163 128.5,395.288 118.98,393.317" fill="#fff" shape-rendering="geometricPrecision"/>
<text filter="url(#crisp)" transform="translate(145.166,396.8) scale(0.84,1)" font-size="12.7" letter-spacing="2.3" text-anchor="middle">JP14</text>
<rect x="99" y="444" width="33.5" height="19" rx="4" ry="4" fill="#000" shape-rendering="geometricPrecision"/>
<rect x="100.2" y="445.2" width="31" height="16.6" rx="3" ry="3" fill="#fff" shape-rendering="geometricPrecision"/>
<rect x="101.4" y="446.4" width="28.6" height="14.2" rx="2.5" ry="2.5" fill="#000" shape-rendering="geometricPrecision"/>
<rect x="102.4" y="447.4" width="26.6" height="12.2" rx="2" ry="2" fill="#fff" shape-rendering="geometricPrecision"/>
<text filter="url(#crisp)" transform="translate(116.166,458) scale(0.84,1)" font-size="12.7" letter-spacing="2.3" text-anchor="middle">NPU</text>
<rect x="265" y="395" width="42" height="18" rx="3" ry="3" fill="#000" shape-rendering="geometricPrecision"/>
<polygon points="266,400 266,408 250.026,405.3 249.974,403.9" fill="#000" stroke="#000" stroke-width="0.9" stroke-linejoin="round" shape-rendering="geometricPrecision"/>
<rect x="266.4" y="396.4" width="38.2" height="14.2" rx="2" ry="2" fill="#fff" shape-rendering="geometricPrecision"/>
<polygon points="268.498,401.706 268.498,406.106 258.8,404.27" fill="#fff" shape-rendering="geometricPrecision"/>
<text filter="url(#crisp)" transform="translate(285.666,408.3) scale(0.84,1)" font-size="12.7" letter-spacing="2.3" text-anchor="middle">JP50</text>
<rect x="350" y="316" width="41" height="14" rx="2" ry="2" fill="#fff" shape-rendering="geometricPrecision"/>
<text filter="url(#crisp)" transform="translate(371.166,327.5) scale(0.84,1)" font-size="12.7" letter-spacing="2.3" text-anchor="middle">BIOS</text>
<rect x="494" y="302" width="42" height="18" rx="3" ry="3" fill="#000" shape-rendering="geometricPrecision"/>
<polygon points="495,306.5 495,314.5 479.391,311 479.409,309.6" fill="#000" stroke="#000" stroke-width="0.9" stroke-linejoin="round" shape-rendering="geometricPrecision"/>
<rect x="495.4" y="303.4" width="38.2" height="14.2" rx="2" ry="2" fill="#fff" shape-rendering="geometricPrecision"/>
<polygon points="497.5,308.332 497.5,312.732 487.98,310.41" fill="#fff" shape-rendering="geometricPrecision"/>
<text filter="url(#crisp)" transform="translate(514.666,313.8) scale(0.84,1)" font-size="12.7" letter-spacing="2.3" text-anchor="middle">JP25</text>
<rect x="546" y="386" width="58.5" height="15.5" fill="#000"/>
<rect x="547.2" y="387.2" width="55.5" height="12.6" fill="#fff"/>
<text filter="url(#crisp)" transform="translate(574.166,397.2) scale(0.84,1)" font-size="12.7" letter-spacing="2.3" text-anchor="middle">BANK 0</text>
<rect x="546" y="468" width="58.5" height="15.5" fill="#000"/>
<rect x="547.2" y="469.2" width="55.5" height="12.6" fill="#fff"/>
<text filter="url(#crisp)" transform="translate(574.166,479.2) scale(0.84,1)" font-size="12.7" letter-spacing="2.3" text-anchor="middle">BANK 1</text>
<rect x="783" y="121" width="28" height="15" rx="0" ry="0" fill="#fff" shape-rendering="geometricPrecision"/>
<text filter="url(#crisp)" transform="translate(797.666,132.6) scale(0.84,1)" font-size="12.7" letter-spacing="2.3" text-anchor="middle">KBD</text>
<rect x="770" y="217" width="35" height="19" rx="3" ry="3" fill="#000" shape-rendering="geometricPrecision"/>
<polygon points="800,218 804.5,221 811.016,210.973 809.984,210.027" fill="#000" stroke="#000" stroke-width="0.9" stroke-linejoin="round" shape-rendering="geometricPrecision"/>
<rect x="771.4" y="218.4" width="31.2" height="15.2" rx="2" ry="2" fill="#fff" shape-rendering="geometricPrecision"/>
<polygon points="799.323,220.518 801.798,222.168 805.962,215.45" fill="#fff" shape-rendering="geometricPrecision"/>
<text filter="url(#crisp)" transform="translate(787.166,229.8) scale(0.84,1)" font-size="12.7" letter-spacing="2.3" text-anchor="middle">JP1</text>
<rect x="783" y="295" width="34" height="19" rx="3" ry="3" fill="#000" shape-rendering="geometricPrecision"/>
<polygon points="796.5,312 802.5,312 799.7,330.019 798.3,329.981" fill="#000" stroke="#000" stroke-width="0.9" stroke-linejoin="round" shape-rendering="geometricPrecision"/>
<rect x="784.4" y="296.4" width="30.2" height="15.2" rx="2" ry="2" fill="#fff" shape-rendering="geometricPrecision"/>
<polygon points="797.919,309.501 801.219,309.501 799.275,320.1" fill="#fff" shape-rendering="geometricPrecision"/>
<text filter="url(#crisp)" transform="translate(799.666,307.8) scale(0.84,1)" font-size="12.7" letter-spacing="2.3" text-anchor="middle">J14</text>
<rect x="719" y="370" width="34" height="19" rx="3" ry="3" fill="#000" shape-rendering="geometricPrecision"/>
<polygon points="719.5,385 723,388.5 712.774,395.515 711.826,394.485" fill="#000" stroke="#000" stroke-width="0.9" stroke-linejoin="round" shape-rendering="geometricPrecision"/>
<rect x="720.4" y="371.4" width="30.2" height="15.2" rx="2" ry="2" fill="#fff" shape-rendering="geometricPrecision"/>
<polygon points="722.126,384.093 724.051,386.018 717.222,390.462" fill="#fff" shape-rendering="geometricPrecision"/>
<text filter="url(#crisp)" transform="translate(735.666,382.8) scale(0.84,1)" font-size="12.7" letter-spacing="2.3" text-anchor="middle">JP3</text>
<rect x="755" y="498" width="35" height="19" rx="3" ry="3" fill="#000" shape-rendering="geometricPrecision"/>
<polygon points="755.5,501.5 760,498.5 749.472,491.483 748.528,492.517" fill="#000" stroke="#000" stroke-width="0.9" stroke-linejoin="round" shape-rendering="geometricPrecision"/>
<rect x="756.4" y="499.4" width="31.2" height="15.2" rx="2" ry="2" fill="#fff" shape-rendering="geometricPrecision"/>
<polygon points="758.358,502.512 760.833,500.862 753.812,496.4" fill="#fff" shape-rendering="geometricPrecision"/>
<text filter="url(#crisp)" transform="translate(772.166,510.8) scale(0.84,1)" font-size="12.7" letter-spacing="2.3" text-anchor="middle">JP2</text>
<text filter="url(#crisp)" transform="translate(659.334,48.2) scale(0.89,1)" font-size="12.3" letter-spacing="0.3" text-anchor="middle">MH0557</text>
</svg>
</body></html>
